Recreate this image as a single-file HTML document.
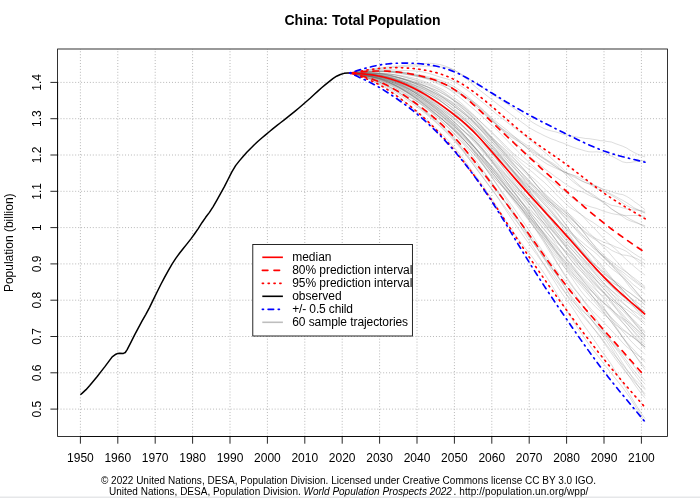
<!DOCTYPE html>
<html lang="en"><head><meta charset="utf-8"><title>China: Total Population</title>
<style>html,body{margin:0;padding:0;background:#fff}body{width:700px;height:498px;position:relative;overflow:hidden;font-family:"Liberation Sans",Arial,sans-serif}</style>
</head><body>
<svg width="700" height="498" viewBox="0 0 700 498" style="position:absolute;left:0;top:0">
<defs><clipPath id="lc"><rect x="252.8" y="244.5" width="159.6" height="91.5"/></clipPath></defs>
<path d="M80.40,436.5 V49.0 M117.80,436.5 V49.0 M155.20,436.5 V49.0 M192.60,436.5 V49.0 M230.00,436.5 V49.0 M267.40,436.5 V49.0 M304.80,436.5 V49.0 M342.20,436.5 V49.0 M379.60,436.5 V49.0 M417.00,436.5 V49.0 M454.40,436.5 V49.0 M491.80,436.5 V49.0 M529.20,436.5 V49.0 M566.60,436.5 V49.0 M604.00,436.5 V49.0 M641.40,436.5 V49.0 M57.6,409.10 H667.4 M57.6,372.80 H667.4 M57.6,336.50 H667.4 M57.6,300.20 H667.4 M57.6,263.90 H667.4 M57.6,227.60 H667.4 M57.6,191.30 H667.4 M57.6,155.00 H667.4 M57.6,118.70 H667.4 M57.6,82.40 H667.4" fill="none" stroke="#b8b8b8" stroke-width="1" stroke-dasharray="1 1.933"/>
<g fill="none" stroke="#686868" stroke-opacity="0.225" stroke-width="1">
<path d="M349.68,72.99 L353.42,72.66 L357.16,72.33 L360.90,72.02 L364.64,71.74 L368.38,71.49 L372.12,71.29 L375.86,71.14 L379.60,71.11 L383.34,71.12 L387.08,71.23 L390.82,71.43 L394.56,71.72 L398.30,72.13 L402.04,72.60 L405.78,73.23 L409.52,73.92 L413.26,74.62 L417.00,75.36 L420.74,76.23 L424.48,77.09 L428.22,78.26 L431.96,79.60 L435.70,81.16 L439.44,83.16 L443.18,85.30 L446.92,87.82 L450.66,90.49 L454.40,93.27 L458.14,96.04 L461.88,99.05 L465.62,102.19 L469.36,105.45 L473.10,108.44 L476.84,111.67 L480.58,114.91 L484.32,118.34 L488.06,121.97 L491.80,125.21 L495.54,128.69 L499.28,132.39 L503.02,136.21 L506.76,140.08 L510.50,144.15 L514.24,147.82 L517.98,151.72 L521.72,155.33 L525.46,158.92 L529.20,162.48 L532.94,165.96 L536.68,169.28 L540.42,172.85 L544.16,176.47 L547.90,180.35 L551.64,184.57 L555.38,188.83 L559.12,192.64 L562.86,196.49 L566.60,200.61 L570.34,204.57 L574.08,208.10 L577.82,211.63 L581.56,214.97 L585.30,218.91 L589.04,223.16 L592.78,226.87 L596.52,230.64 L600.26,234.79 L604.00,238.68 L607.74,242.30 L611.48,245.84 L615.22,248.80 L618.96,252.30 L622.70,256.18 L626.44,259.60 L630.18,262.90 L633.92,266.25 L637.66,269.38 L641.40,272.45 L645.14,275.11"/>
<path d="M349.68,72.99 L353.42,73.48 L357.16,73.98 L360.90,74.53 L364.64,75.12 L368.38,75.76 L372.12,76.47 L375.86,77.29 L379.60,78.26 L383.34,79.33 L387.08,80.51 L390.82,81.85 L394.56,83.32 L398.30,84.90 L402.04,86.52 L405.78,88.11 L409.52,89.86 L413.26,91.65 L417.00,93.60 L420.74,95.61 L424.48,97.73 L428.22,99.93 L431.96,102.14 L435.70,104.28 L439.44,106.70 L443.18,109.26 L446.92,111.91 L450.66,114.77 L454.40,117.81 L458.14,121.03 L461.88,124.70 L465.62,128.66 L469.36,132.63 L473.10,136.95 L476.84,141.37 L480.58,145.97 L484.32,150.93 L488.06,155.99 L491.80,160.84 L495.54,165.90 L499.28,171.26 L503.02,176.53 L506.76,181.86 L510.50,187.02 L514.24,192.12 L517.98,197.32 L521.72,202.56 L525.46,207.69 L529.20,212.90 L532.94,218.28 L536.68,223.70 L540.42,228.90 L544.16,233.56 L547.90,238.29 L551.64,242.61 L555.38,246.96 L559.12,251.10 L562.86,255.61 L566.60,260.27 L570.34,265.20 L574.08,269.78 L577.82,274.52 L581.56,279.27 L585.30,283.68 L589.04,287.69 L592.78,292.08 L596.52,296.77 L600.26,301.88 L604.00,307.79 L607.74,313.75 L611.48,319.65 L615.22,325.56 L618.96,331.23 L622.70,337.00 L626.44,341.97 L630.18,346.02 L633.92,349.90 L637.66,354.17 L641.40,358.46 L645.14,362.42"/>
<path d="M349.68,72.99 L353.42,73.95 L357.16,74.93 L360.90,75.94 L364.64,77.01 L368.38,78.16 L372.12,79.43 L375.86,80.85 L379.60,82.44 L383.34,84.20 L387.08,86.10 L390.82,88.08 L394.56,90.26 L398.30,92.49 L402.04,94.80 L405.78,97.32 L409.52,99.84 L413.26,102.52 L417.00,105.39 L420.74,108.39 L424.48,111.58 L428.22,114.95 L431.96,118.17 L435.70,121.51 L439.44,125.00 L443.18,128.50 L446.92,132.11 L450.66,135.89 L454.40,139.99 L458.14,144.25 L461.88,148.60 L465.62,152.98 L469.36,157.56 L473.10,162.14 L476.84,166.70 L480.58,171.09 L484.32,175.75 L488.06,180.57 L491.80,185.30 L495.54,190.04 L499.28,194.81 L503.02,199.69 L506.76,204.65 L510.50,209.33 L514.24,213.94 L517.98,218.81 L521.72,223.86 L525.46,229.12 L529.20,234.34 L532.94,239.32 L536.68,244.70 L540.42,250.25 L544.16,255.86 L547.90,261.38 L551.64,266.98 L555.38,272.57 L559.12,278.51 L562.86,284.09 L566.60,289.70 L570.34,295.01 L574.08,299.87 L577.82,304.32 L581.56,308.77 L585.30,312.88 L589.04,317.14 L592.78,321.41 L596.52,325.68 L600.26,329.80 L604.00,333.90 L607.74,337.91 L611.48,342.23 L615.22,346.48 L618.96,350.80 L622.70,355.56 L626.44,360.54 L630.18,365.73 L633.92,370.60 L637.66,375.20 L641.40,379.91 L645.14,384.26"/>
<path d="M349.68,72.99 L353.42,73.51 L357.16,74.03 L360.90,74.58 L364.64,75.19 L368.38,75.85 L372.12,76.58 L375.86,77.46 L379.60,78.49 L383.34,79.67 L387.08,80.95 L390.82,82.36 L394.56,83.96 L398.30,85.73 L402.04,87.61 L405.78,89.56 L409.52,91.57 L413.26,93.71 L417.00,95.91 L420.74,98.09 L424.48,100.34 L428.22,102.66 L431.96,105.19 L435.70,107.80 L439.44,110.68 L443.18,113.85 L446.92,117.25 L450.66,120.79 L454.40,124.49 L458.14,128.34 L461.88,132.42 L465.62,136.54 L469.36,140.61 L473.10,144.69 L476.84,148.97 L480.58,153.47 L484.32,157.98 L488.06,162.52 L491.80,167.01 L495.54,171.79 L499.28,176.90 L503.02,182.26 L506.76,187.36 L510.50,192.11 L514.24,196.67 L517.98,201.29 L521.72,205.62 L525.46,209.98 L529.20,214.19 L532.94,218.64 L536.68,223.54 L540.42,228.96 L544.16,234.15 L547.90,239.50 L551.64,244.79 L555.38,249.77 L559.12,255.05 L562.86,260.20 L566.60,264.93 L570.34,269.72 L574.08,274.50 L577.82,279.04 L581.56,283.71 L585.30,288.21 L589.04,292.69 L592.78,296.97 L596.52,301.18 L600.26,305.72 L604.00,310.14 L607.74,314.42 L611.48,318.01 L615.22,321.41 L618.96,325.06 L622.70,329.10 L626.44,331.91 L630.18,335.10 L633.92,337.97 L637.66,341.19 L641.40,344.28 L645.14,347.27"/>
<path d="M349.68,72.99 L353.42,73.08 L357.16,73.20 L360.90,73.35 L364.64,73.55 L368.38,73.83 L372.12,74.17 L375.86,74.62 L379.60,75.20 L383.34,75.89 L387.08,76.78 L390.82,77.83 L394.56,79.03 L398.30,80.42 L402.04,81.95 L405.78,83.58 L409.52,85.41 L413.26,87.36 L417.00,89.47 L420.74,91.75 L424.48,93.99 L428.22,96.39 L431.96,98.84 L435.70,101.34 L439.44,103.91 L443.18,106.56 L446.92,109.29 L450.66,112.13 L454.40,115.01 L458.14,118.04 L461.88,121.07 L465.62,124.40 L469.36,127.93 L473.10,131.61 L476.84,135.44 L480.58,139.54 L484.32,143.87 L488.06,148.53 L491.80,153.01 L495.54,157.66 L499.28,162.62 L503.02,167.77 L506.76,172.63 L510.50,177.76 L514.24,182.80 L517.98,188.09 L521.72,193.42 L525.46,198.39 L529.20,203.51 L532.94,208.99 L536.68,214.11 L540.42,219.18 L544.16,224.04 L547.90,228.88 L551.64,234.07 L555.38,239.51 L559.12,244.41 L562.86,249.51 L566.60,254.38 L570.34,259.36 L574.08,264.05 L577.82,268.41 L581.56,271.82 L585.30,275.89 L589.04,280.21 L592.78,284.79 L596.52,289.63 L600.26,294.28 L604.00,298.67 L607.74,303.72 L611.48,308.83 L615.22,313.61 L618.96,317.73 L622.70,322.23 L626.44,326.78 L630.18,331.88 L633.92,336.44 L637.66,340.62 L641.40,344.72 L645.14,349.25"/>
<path d="M349.68,72.99 L353.42,72.90 L357.16,72.82 L360.90,72.77 L364.64,72.77 L368.38,72.86 L372.12,73.02 L375.86,73.26 L379.60,73.64 L383.34,74.17 L387.08,74.86 L390.82,75.66 L394.56,76.53 L398.30,77.44 L402.04,78.35 L405.78,79.35 L409.52,80.47 L413.26,81.60 L417.00,82.84 L420.74,84.20 L424.48,85.75 L428.22,87.67 L431.96,89.67 L435.70,91.75 L439.44,93.95 L443.18,96.25 L446.92,98.71 L450.66,101.43 L454.40,104.21 L458.14,107.29 L461.88,110.48 L465.62,113.86 L469.36,117.61 L473.10,121.47 L476.84,125.57 L480.58,129.88 L484.32,134.28 L488.06,139.14 L491.80,144.05 L495.54,148.79 L499.28,153.60 L503.02,158.29 L506.76,162.96 L510.50,167.78 L514.24,172.29 L517.98,176.92 L521.72,181.57 L525.46,186.43 L529.20,191.15 L532.94,195.76 L536.68,200.19 L540.42,204.65 L544.16,208.87 L547.90,213.48 L551.64,217.74 L555.38,222.00 L559.12,226.26 L562.86,230.42 L566.60,234.67 L570.34,239.17 L574.08,243.10 L577.82,247.04 L581.56,250.96 L585.30,255.35 L589.04,259.66 L592.78,263.39 L596.52,266.65 L600.26,269.92 L604.00,273.67 L607.74,277.08 L611.48,279.94 L615.22,283.68 L618.96,287.63 L622.70,292.37 L626.44,297.63 L630.18,302.36 L633.92,306.89 L637.66,311.41 L641.40,315.23 L645.14,319.19"/>
<path d="M349.68,72.99 L353.42,73.60 L357.16,74.20 L360.90,74.84 L364.64,75.52 L368.38,76.27 L372.12,77.13 L375.86,78.13 L379.60,79.25 L383.34,80.52 L387.08,81.91 L390.82,83.38 L394.56,84.97 L398.30,86.65 L402.04,88.41 L405.78,90.33 L409.52,92.27 L413.26,94.34 L417.00,96.66 L420.74,99.09 L424.48,101.70 L428.22,104.44 L431.96,107.40 L435.70,110.56 L439.44,113.84 L443.18,117.20 L446.92,120.98 L450.66,124.96 L454.40,129.07 L458.14,133.15 L461.88,137.43 L465.62,141.81 L469.36,146.19 L473.10,150.79 L476.84,155.50 L480.58,160.39 L484.32,165.32 L488.06,169.98 L491.80,174.50 L495.54,179.08 L499.28,183.19 L503.02,187.13 L506.76,191.23 L510.50,195.42 L514.24,199.73 L517.98,203.89 L521.72,208.11 L525.46,212.38 L529.20,216.74 L532.94,220.73 L536.68,224.68 L540.42,228.46 L544.16,232.79 L547.90,237.09 L551.64,241.38 L555.38,245.51 L559.12,249.66 L562.86,254.11 L566.60,259.09 L570.34,263.74 L574.08,268.46 L577.82,273.47 L581.56,278.39 L585.30,283.39 L589.04,287.86 L592.78,292.17 L596.52,296.25 L600.26,300.17 L604.00,303.38 L607.74,307.00 L611.48,310.91 L615.22,314.85 L618.96,318.81 L622.70,322.83 L626.44,326.70 L630.18,331.11 L633.92,335.26 L637.66,339.17 L641.40,343.14 L645.14,346.93"/>
<path d="M349.68,72.99 L353.42,73.55 L357.16,74.11 L360.90,74.66 L364.64,75.24 L368.38,75.87 L372.12,76.52 L375.86,77.22 L379.60,78.06 L383.34,79.06 L387.08,80.22 L390.82,81.55 L394.56,83.08 L398.30,84.88 L402.04,86.80 L405.78,88.86 L409.52,91.06 L413.26,93.40 L417.00,95.79 L420.74,98.21 L424.48,100.61 L428.22,103.22 L431.96,105.92 L435.70,108.80 L439.44,111.74 L443.18,114.86 L446.92,118.14 L450.66,121.65 L454.40,125.23 L458.14,128.82 L461.88,132.61 L465.62,136.80 L469.36,141.24 L473.10,145.47 L476.84,149.69 L480.58,154.00 L484.32,158.39 L488.06,162.31 L491.80,166.12 L495.54,169.91 L499.28,173.88 L503.02,177.89 L506.76,181.76 L510.50,185.81 L514.24,189.85 L517.98,193.53 L521.72,197.01 L525.46,200.52 L529.20,204.43 L532.94,208.30 L536.68,212.06 L540.42,216.07 L544.16,220.26 L547.90,224.63 L551.64,229.51 L555.38,233.87 L559.12,238.55 L562.86,243.27 L566.60,248.25 L570.34,253.49 L574.08,259.21 L577.82,264.23 L581.56,269.25 L585.30,273.79 L589.04,277.72 L592.78,281.44 L596.52,285.45 L600.26,289.04 L604.00,293.15 L607.74,297.38 L611.48,301.80 L615.22,307.21 L618.96,312.54 L622.70,317.79 L626.44,322.74 L630.18,327.40 L633.92,332.03 L637.66,336.71 L641.40,340.85 L645.14,345.10"/>
<path d="M349.68,72.99 L353.42,73.15 L357.16,73.34 L360.90,73.54 L364.64,73.76 L368.38,74.02 L372.12,74.34 L375.86,74.66 L379.60,75.05 L383.34,75.56 L387.08,76.22 L390.82,77.03 L394.56,77.98 L398.30,79.02 L402.04,80.29 L405.78,81.71 L409.52,83.11 L413.26,84.60 L417.00,86.21 L420.74,87.85 L424.48,89.51 L428.22,91.25 L431.96,93.06 L435.70,95.09 L439.44,97.20 L443.18,99.39 L446.92,101.57 L450.66,104.03 L454.40,106.46 L458.14,109.04 L461.88,111.66 L465.62,114.72 L469.36,118.09 L473.10,121.95 L476.84,125.81 L480.58,129.75 L484.32,133.52 L488.06,137.81 L491.80,141.74 L495.54,145.60 L499.28,149.48 L503.02,153.37 L506.76,157.50 L510.50,162.25 L514.24,166.81 L517.98,171.80 L521.72,176.88 L525.46,181.80 L529.20,186.77 L532.94,191.24 L536.68,195.31 L540.42,199.61 L544.16,203.75 L547.90,207.95 L551.64,212.52 L555.38,217.09 L559.12,222.23 L562.86,227.88 L566.60,233.06 L570.34,238.17 L574.08,243.01 L577.82,247.53 L581.56,252.00 L585.30,256.27 L589.04,259.58 L592.78,262.88 L596.52,265.91 L600.26,268.81 L604.00,272.04 L607.74,275.41 L611.48,278.75 L615.22,282.33 L618.96,286.44 L622.70,290.08 L626.44,293.78 L630.18,297.37 L633.92,301.48 L637.66,305.52 L641.40,309.65 L645.14,313.31"/>
<path d="M349.68,72.99 L353.42,73.37 L357.16,73.76 L360.90,74.20 L364.64,74.71 L368.38,75.27 L372.12,75.87 L375.86,76.57 L379.60,77.38 L383.34,78.35 L387.08,79.41 L390.82,80.62 L394.56,82.01 L398.30,83.65 L402.04,85.44 L405.78,87.39 L409.52,89.46 L413.26,91.84 L417.00,94.39 L420.74,97.08 L424.48,99.91 L428.22,102.84 L431.96,105.96 L435.70,109.25 L439.44,112.45 L443.18,115.63 L446.92,118.92 L450.66,122.44 L454.40,126.02 L458.14,129.60 L461.88,133.39 L465.62,137.51 L469.36,141.71 L473.10,146.06 L476.84,150.30 L480.58,154.81 L484.32,159.19 L488.06,163.54 L491.80,167.82 L495.54,171.95 L499.28,175.97 L503.02,180.24 L506.76,184.43 L510.50,188.71 L514.24,192.68 L517.98,196.67 L521.72,201.38 L525.46,206.27 L529.20,211.09 L532.94,215.87 L536.68,220.47 L540.42,225.23 L544.16,229.73 L547.90,234.07 L551.64,238.13 L555.38,241.69 L559.12,245.04 L562.86,248.58 L566.60,252.11 L570.34,255.37 L574.08,258.55 L577.82,261.93 L581.56,265.66 L585.30,269.36 L589.04,273.18 L592.78,276.90 L596.52,281.07 L600.26,284.90 L604.00,288.65 L607.74,292.71 L611.48,296.89 L615.22,300.66 L618.96,304.71 L622.70,308.71 L626.44,312.54 L630.18,316.60 L633.92,320.29 L637.66,323.97 L641.40,327.92 L645.14,331.60"/>
<path d="M349.68,72.99 L353.42,72.76 L357.16,72.49 L360.90,72.21 L364.64,71.93 L368.38,71.66 L372.12,71.46 L375.86,71.33 L379.60,71.26 L383.34,71.24 L387.08,71.29 L390.82,71.43 L394.56,71.67 L398.30,71.90 L402.04,72.21 L405.78,72.55 L409.52,73.04 L413.26,73.73 L417.00,74.39 L420.74,75.08 L424.48,75.88 L428.22,76.78 L431.96,77.74 L435.70,78.83 L439.44,79.92 L443.18,81.29 L446.92,82.80 L450.66,84.71 L454.40,86.74 L458.14,89.24 L461.88,92.08 L465.62,94.87 L469.36,97.81 L473.10,101.23 L476.84,104.61 L480.58,108.13 L484.32,111.43 L488.06,114.65 L491.80,117.99 L495.54,121.17 L499.28,124.20 L503.02,127.07 L506.76,130.05 L510.50,133.31 L514.24,136.55 L517.98,139.85 L521.72,143.26 L525.46,146.66 L529.20,150.22 L532.94,153.55 L536.68,156.72 L540.42,159.58 L544.16,162.17 L547.90,164.59 L551.64,166.31 L555.38,168.05 L559.12,169.77 L562.86,171.54 L566.60,172.98 L570.34,174.18 L574.08,175.92 L577.82,178.43 L581.56,180.48 L585.30,182.46 L589.04,184.06 L592.78,186.15 L596.52,188.54 L600.26,190.10 L604.00,191.31 L607.74,192.32 L611.48,194.24 L615.22,196.15 L618.96,198.34 L622.70,200.31 L626.44,202.53 L630.18,205.00 L633.92,207.66 L637.66,209.48 L641.40,211.46 L645.14,213.02"/>
<path d="M349.68,72.99 L353.42,73.77 L357.16,74.57 L360.90,75.42 L364.64,76.32 L368.38,77.29 L372.12,78.33 L375.86,79.46 L379.60,80.69 L383.34,82.08 L387.08,83.62 L390.82,85.33 L394.56,87.18 L398.30,89.19 L402.04,91.30 L405.78,93.59 L409.52,95.92 L413.26,98.39 L417.00,100.92 L420.74,103.52 L424.48,106.20 L428.22,108.91 L431.96,111.66 L435.70,114.41 L439.44,117.12 L443.18,120.00 L446.92,123.06 L450.66,126.15 L454.40,129.54 L458.14,133.07 L461.88,136.94 L465.62,141.28 L469.36,145.75 L473.10,150.63 L476.84,155.69 L480.58,160.99 L484.32,166.51 L488.06,172.11 L491.80,177.48 L495.54,183.05 L499.28,188.60 L503.02,194.40 L506.76,200.47 L510.50,206.64 L514.24,212.59 L517.98,218.83 L521.72,224.78 L525.46,230.75 L529.20,236.56 L532.94,242.11 L536.68,247.53 L540.42,253.17 L544.16,258.25 L547.90,263.38 L551.64,268.14 L555.38,273.10 L559.12,277.78 L562.86,282.38 L566.60,286.80 L570.34,291.52 L574.08,295.75 L577.82,300.39 L581.56,304.78 L585.30,309.02 L589.04,313.23 L592.78,317.78 L596.52,322.36 L600.26,327.69 L604.00,332.50 L607.74,336.63 L611.48,340.70 L615.22,344.97 L618.96,349.26 L622.70,353.60 L626.44,357.29 L630.18,361.24 L633.92,366.06 L637.66,371.24 L641.40,376.14 L645.14,380.80"/>
<path d="M349.68,72.99 L353.42,73.56 L357.16,74.16 L360.90,74.84 L364.64,75.60 L368.38,76.48 L372.12,77.48 L375.86,78.56 L379.60,79.71 L383.34,81.03 L387.08,82.38 L390.82,83.84 L394.56,85.41 L398.30,87.15 L402.04,89.09 L405.78,91.28 L409.52,93.44 L413.26,95.89 L417.00,98.61 L420.74,101.43 L424.48,104.34 L428.22,107.37 L431.96,110.39 L435.70,113.68 L439.44,116.83 L443.18,120.21 L446.92,123.71 L450.66,127.41 L454.40,131.27 L458.14,135.30 L461.88,139.57 L465.62,144.22 L469.36,148.70 L473.10,153.28 L476.84,157.99 L480.58,162.53 L484.32,166.85 L488.06,171.27 L491.80,175.56 L495.54,179.58 L499.28,183.51 L503.02,187.27 L506.76,191.35 L510.50,195.88 L514.24,200.21 L517.98,204.67 L521.72,209.43 L525.46,214.42 L529.20,219.55 L532.94,224.90 L536.68,230.19 L540.42,235.65 L544.16,241.05 L547.90,246.40 L551.64,251.58 L555.38,256.53 L559.12,261.09 L562.86,265.56 L566.60,269.79 L570.34,273.96 L574.08,278.13 L577.82,282.58 L581.56,286.77 L585.30,290.98 L589.04,295.33 L592.78,299.72 L596.52,304.16 L600.26,308.70 L604.00,313.11 L607.74,317.54 L611.48,322.15 L615.22,327.15 L618.96,332.22 L622.70,337.66 L626.44,343.20 L630.18,348.29 L633.92,353.55 L637.66,358.64 L641.40,363.10 L645.14,367.36"/>
<path d="M349.68,72.99 L353.42,72.96 L357.16,72.93 L360.90,72.89 L364.64,72.84 L368.38,72.80 L372.12,72.81 L375.86,72.85 L379.60,72.97 L383.34,73.20 L387.08,73.59 L390.82,74.15 L394.56,74.83 L398.30,75.63 L402.04,76.45 L405.78,77.37 L409.52,78.33 L413.26,79.37 L417.00,80.40 L420.74,81.40 L424.48,82.50 L428.22,83.96 L431.96,85.61 L435.70,87.49 L439.44,89.45 L443.18,91.64 L446.92,94.25 L450.66,97.06 L454.40,99.96 L458.14,102.78 L461.88,105.72 L465.62,108.95 L469.36,112.62 L473.10,116.50 L476.84,120.29 L480.58,124.53 L484.32,129.00 L488.06,133.46 L491.80,137.99 L495.54,142.39 L499.28,146.64 L503.02,151.17 L506.76,155.37 L510.50,159.83 L514.24,164.38 L517.98,169.03 L521.72,173.65 L525.46,178.22 L529.20,182.67 L532.94,186.91 L536.68,190.85 L540.42,194.54 L544.16,197.76 L547.90,200.57 L551.64,203.07 L555.38,205.70 L559.12,208.54 L562.86,211.02 L566.60,214.02 L570.34,217.25 L574.08,220.89 L577.82,224.99 L581.56,229.52 L585.30,234.26 L589.04,239.26 L592.78,243.59 L596.52,247.66 L600.26,251.54 L604.00,255.28 L607.74,258.65 L611.48,261.52 L615.22,264.36 L618.96,267.21 L622.70,269.74 L626.44,272.18 L630.18,275.02 L633.92,277.83 L637.66,280.75 L641.40,283.57 L645.14,286.61"/>
<path d="M349.68,73.00 L353.42,72.40 L357.16,71.81 L360.90,71.23 L364.64,70.66 L368.38,70.13 L372.12,69.65 L375.86,69.24 L379.60,68.84 L383.34,68.48 L387.08,68.17 L390.82,67.86 L394.56,67.49 L398.30,67.08 L402.04,66.75 L405.78,66.45 L409.52,66.19 L413.26,66.04 L417.00,65.91 L420.74,65.92 L424.48,66.13 L428.22,66.18 L431.96,66.27 L435.70,66.50 L439.44,66.75 L443.18,67.17 L446.92,67.73 L450.66,68.75 L454.40,70.37 L458.14,72.52 L461.88,75.17 L465.62,78.19 L469.36,81.34 L473.10,84.70 L476.84,87.93 L480.58,90.83 L484.32,93.72 L488.06,96.64 L491.80,99.52 L495.54,102.47 L499.28,105.40 L503.02,107.98 L506.76,110.94 L510.50,113.97 L514.24,116.73 L517.98,119.38 L521.72,122.21 L525.46,124.85 L529.20,127.67 L532.94,129.82 L536.68,131.89 L540.42,133.68 L544.16,135.61 L547.90,137.36 L551.64,138.96 L555.38,140.26 L559.12,141.82 L562.86,143.03 L566.60,144.62 L570.34,146.21 L574.08,147.53 L577.82,148.78 L581.56,149.80 L585.30,150.95 L589.04,151.80 L592.78,151.95 L596.52,151.79 L600.26,152.14 L604.00,152.98 L607.74,154.70 L611.48,156.04 L615.22,157.98 L618.96,160.01 L622.70,161.88 L626.44,162.61 L630.18,162.50 L633.92,161.80 L637.66,161.55 L641.40,160.85 L645.14,160.47"/>
<path d="M349.68,72.99 L353.42,73.26 L357.16,73.53 L360.90,73.84 L364.64,74.20 L368.38,74.65 L372.12,75.18 L375.86,75.79 L379.60,76.52 L383.34,77.39 L387.08,78.40 L390.82,79.51 L394.56,80.74 L398.30,82.06 L402.04,83.53 L405.78,85.25 L409.52,87.18 L413.26,89.15 L417.00,91.22 L420.74,93.35 L424.48,95.62 L428.22,98.12 L431.96,100.43 L435.70,102.62 L439.44,104.90 L443.18,107.43 L446.92,110.21 L450.66,113.03 L454.40,115.50 L458.14,118.07 L461.88,120.69 L465.62,123.30 L469.36,126.22 L473.10,128.95 L476.84,132.15 L480.58,135.89 L484.32,139.82 L488.06,143.87 L491.80,147.99 L495.54,151.90 L499.28,156.14 L503.02,160.39 L506.76,164.59 L510.50,168.97 L514.24,173.74 L517.98,178.84 L521.72,184.13 L525.46,189.67 L529.20,195.20 L532.94,201.02 L536.68,206.72 L540.42,212.15 L544.16,216.96 L547.90,222.00 L551.64,226.82 L555.38,231.17 L559.12,235.20 L562.86,239.35 L566.60,243.19 L570.34,247.60 L574.08,251.93 L577.82,256.41 L581.56,261.02 L585.30,265.46 L589.04,270.13 L592.78,275.40 L596.52,280.40 L600.26,284.91 L604.00,289.17 L607.74,293.27 L611.48,297.23 L615.22,301.22 L618.96,304.99 L622.70,308.74 L626.44,312.77 L630.18,317.20 L633.92,321.90 L637.66,326.79 L641.40,331.22 L645.14,335.59"/>
<path d="M349.68,72.99 L353.42,73.21 L357.16,73.44 L360.90,73.68 L364.64,73.93 L368.38,74.25 L372.12,74.61 L375.86,75.09 L379.60,75.66 L383.34,76.43 L387.08,77.28 L390.82,78.27 L394.56,79.31 L398.30,80.45 L402.04,81.64 L405.78,82.80 L409.52,83.77 L413.26,84.94 L417.00,86.27 L420.74,87.81 L424.48,89.53 L428.22,91.63 L431.96,93.99 L435.70,96.78 L439.44,99.76 L443.18,102.82 L446.92,105.79 L450.66,108.47 L454.40,111.04 L458.14,113.54 L461.88,116.10 L465.62,118.81 L469.36,121.57 L473.10,124.98 L476.84,128.78 L480.58,132.91 L484.32,137.34 L488.06,141.50 L491.80,145.77 L495.54,150.17 L499.28,154.53 L503.02,159.05 L506.76,163.57 L510.50,167.86 L514.24,172.01 L517.98,175.91 L521.72,179.96 L525.46,183.67 L529.20,187.16 L532.94,190.18 L536.68,193.37 L540.42,196.96 L544.16,200.49 L547.90,203.97 L551.64,207.68 L555.38,211.71 L559.12,216.06 L562.86,220.85 L566.60,225.81 L570.34,231.24 L574.08,236.58 L577.82,241.74 L581.56,246.87 L585.30,252.12 L589.04,257.26 L592.78,262.12 L596.52,266.15 L600.26,269.86 L604.00,273.71 L607.74,276.54 L611.48,279.45 L615.22,281.45 L618.96,283.79 L622.70,287.55 L626.44,290.66 L630.18,293.05 L633.92,296.26 L637.66,298.92 L641.40,302.10 L645.14,305.04"/>
<path d="M349.68,72.99 L353.42,73.56 L357.16,74.15 L360.90,74.79 L364.64,75.48 L368.38,76.24 L372.12,77.05 L375.86,77.95 L379.60,78.93 L383.34,80.09 L387.08,81.44 L390.82,82.91 L394.56,84.57 L398.30,86.44 L402.04,88.43 L405.78,90.61 L409.52,92.83 L413.26,95.12 L417.00,97.62 L420.74,100.14 L424.48,102.76 L428.22,105.54 L431.96,108.42 L435.70,111.38 L439.44,114.44 L443.18,117.49 L446.92,120.50 L450.66,123.59 L454.40,126.72 L458.14,129.86 L461.88,133.20 L465.62,136.73 L469.36,140.65 L473.10,145.14 L476.84,149.98 L480.58,154.86 L484.32,159.88 L488.06,164.90 L491.80,170.01 L495.54,174.76 L499.28,179.38 L503.02,183.65 L506.76,187.90 L510.50,191.84 L514.24,195.75 L517.98,199.30 L521.72,202.62 L525.46,206.18 L529.20,209.80 L532.94,213.18 L536.68,216.71 L540.42,219.95 L544.16,223.01 L547.90,226.69 L551.64,229.97 L555.38,233.65 L559.12,237.84 L562.86,242.27 L566.60,246.92 L570.34,251.86 L574.08,256.52 L577.82,261.63 L581.56,266.02 L585.30,269.90 L589.04,273.41 L592.78,276.90 L596.52,280.39 L600.26,283.76 L604.00,286.58 L607.74,290.22 L611.48,293.89 L615.22,296.88 L618.96,300.20 L622.70,303.15 L626.44,306.08 L630.18,309.11 L633.92,311.22 L637.66,313.49 L641.40,316.59 L645.14,319.12"/>
<path d="M349.68,72.99 L353.42,74.18 L357.16,75.39 L360.90,76.64 L364.64,77.94 L368.38,79.32 L372.12,80.83 L375.86,82.48 L379.60,84.27 L383.34,86.24 L387.08,88.44 L390.82,90.88 L394.56,93.51 L398.30,96.37 L402.04,99.26 L405.78,102.34 L409.52,105.57 L413.26,108.65 L417.00,111.80 L420.74,114.86 L424.48,117.94 L428.22,121.30 L431.96,124.70 L435.70,128.05 L439.44,131.56 L443.18,135.22 L446.92,139.18 L450.66,143.37 L454.40,147.73 L458.14,152.09 L461.88,156.76 L465.62,161.80 L469.36,167.00 L473.10,172.17 L476.84,177.27 L480.58,182.34 L484.32,187.79 L488.06,193.27 L491.80,198.84 L495.54,204.55 L499.28,210.27 L503.02,216.20 L506.76,222.10 L510.50,227.73 L514.24,233.31 L517.98,238.64 L521.72,243.41 L525.46,248.23 L529.20,253.06 L532.94,257.86 L536.68,262.82 L540.42,268.07 L544.16,273.28 L547.90,278.94 L551.64,285.13 L555.38,291.23 L559.12,297.47 L562.86,303.81 L566.60,310.20 L570.34,316.54 L574.08,322.70 L577.82,328.22 L581.56,333.85 L585.30,339.17 L589.04,344.61 L592.78,349.66 L596.52,354.28 L600.26,359.09 L604.00,364.11 L607.74,368.63 L611.48,373.49 L615.22,378.17 L618.96,382.79 L622.70,387.53 L626.44,392.73 L630.18,398.08 L633.92,404.07 L637.66,410.02 L641.40,415.92 L645.14,421.93"/>
<path d="M349.68,72.99 L353.42,73.75 L357.16,74.54 L360.90,75.38 L364.64,76.30 L368.38,77.31 L372.12,78.37 L375.86,79.55 L379.60,80.85 L383.34,82.30 L387.08,83.94 L390.82,85.69 L394.56,87.55 L398.30,89.64 L402.04,91.89 L405.78,94.17 L409.52,96.55 L413.26,98.96 L417.00,101.53 L420.74,104.32 L424.48,107.20 L428.22,110.03 L431.96,113.09 L435.70,116.28 L439.44,119.68 L443.18,123.14 L446.92,126.63 L450.66,130.20 L454.40,133.92 L458.14,137.73 L461.88,141.44 L465.62,145.15 L469.36,148.86 L473.10,152.92 L476.84,157.11 L480.58,161.67 L484.32,166.35 L488.06,171.61 L491.80,176.83 L495.54,182.22 L499.28,187.49 L503.02,192.80 L506.76,198.17 L510.50,203.47 L514.24,208.66 L517.98,214.19 L521.72,219.65 L525.46,225.05 L529.20,230.53 L532.94,236.13 L536.68,242.02 L540.42,247.72 L544.16,253.00 L547.90,258.56 L551.64,263.80 L555.38,268.72 L559.12,273.53 L562.86,277.89 L566.60,282.45 L570.34,287.60 L574.08,292.71 L577.82,298.21 L581.56,303.92 L585.30,309.58 L589.04,315.36 L592.78,321.27 L596.52,326.62 L600.26,331.98 L604.00,337.43 L607.74,342.93 L611.48,348.64 L615.22,354.79 L618.96,360.71 L622.70,366.84 L626.44,372.49 L630.18,377.87 L633.92,383.46 L637.66,388.76 L641.40,393.70 L645.14,398.36"/>
<path d="M349.68,72.99 L353.42,72.89 L357.16,72.81 L360.90,72.77 L364.64,72.78 L368.38,72.82 L372.12,72.94 L375.86,73.08 L379.60,73.31 L383.34,73.60 L387.08,73.90 L390.82,74.27 L394.56,74.68 L398.30,75.14 L402.04,75.69 L405.78,76.34 L409.52,77.13 L413.26,78.01 L417.00,79.04 L420.74,80.21 L424.48,81.45 L428.22,82.78 L431.96,84.35 L435.70,86.05 L439.44,87.91 L443.18,89.89 L446.92,92.12 L450.66,94.88 L454.40,97.80 L458.14,100.74 L461.88,103.74 L465.62,107.25 L469.36,110.77 L473.10,114.52 L476.84,117.99 L480.58,121.80 L484.32,125.71 L488.06,129.46 L491.80,133.09 L495.54,136.92 L499.28,140.74 L503.02,144.87 L506.76,148.63 L510.50,151.96 L514.24,155.79 L517.98,159.78 L521.72,163.40 L525.46,166.73 L529.20,169.64 L532.94,172.51 L536.68,175.88 L540.42,179.10 L544.16,182.22 L547.90,185.89 L551.64,189.59 L555.38,193.64 L559.12,197.43 L562.86,201.00 L566.60,204.68 L570.34,207.81 L574.08,210.07 L577.82,212.39 L581.56,214.77 L585.30,217.60 L589.04,219.99 L592.78,222.25 L596.52,224.87 L600.26,227.66 L604.00,230.47 L607.74,233.16 L611.48,236.02 L615.22,239.52 L618.96,242.72 L622.70,245.58 L626.44,248.34 L630.18,250.86 L633.92,253.50 L637.66,255.98 L641.40,258.14 L645.14,260.37"/>
<path d="M349.68,72.99 L353.42,73.49 L357.16,73.99 L360.90,74.52 L364.64,75.11 L368.38,75.80 L372.12,76.60 L375.86,77.55 L379.60,78.64 L383.34,79.91 L387.08,81.43 L390.82,83.13 L394.56,84.95 L398.30,86.96 L402.04,89.20 L405.78,91.55 L409.52,94.03 L413.26,96.63 L417.00,99.24 L420.74,101.95 L424.48,104.92 L428.22,107.73 L431.96,110.78 L435.70,113.84 L439.44,116.94 L443.18,120.10 L446.92,123.42 L450.66,126.64 L454.40,130.22 L458.14,133.73 L461.88,137.46 L465.62,141.37 L469.36,145.37 L473.10,149.40 L476.84,153.66 L480.58,157.61 L484.32,161.72 L488.06,165.87 L491.80,169.86 L495.54,174.30 L499.28,178.61 L503.02,182.74 L506.76,187.31 L510.50,192.04 L514.24,196.61 L517.98,201.31 L521.72,205.97 L525.46,210.74 L529.20,216.12 L532.94,221.51 L536.68,226.90 L540.42,232.41 L544.16,237.89 L547.90,243.45 L551.64,249.02 L555.38,254.18 L559.12,259.37 L562.86,264.75 L566.60,270.31 L570.34,275.81 L574.08,281.19 L577.82,286.65 L581.56,291.76 L585.30,296.40 L589.04,300.27 L592.78,303.86 L596.52,307.77 L600.26,311.13 L604.00,314.38 L607.74,317.56 L611.48,320.96 L615.22,324.40 L618.96,327.49 L622.70,330.06 L626.44,332.70 L630.18,335.26 L633.92,338.02 L637.66,340.74 L641.40,343.77 L645.14,347.04"/>
<path d="M349.68,73.00 L353.42,72.33 L357.16,71.66 L360.90,70.98 L364.64,70.30 L368.38,69.63 L372.12,68.96 L375.86,68.38 L379.60,67.86 L383.34,67.43 L387.08,67.00 L390.82,66.60 L394.56,66.28 L398.30,66.02 L402.04,65.72 L405.78,65.37 L409.52,64.89 L413.26,64.56 L417.00,64.20 L420.74,63.87 L424.48,63.57 L428.22,63.35 L431.96,63.34 L435.70,63.89 L439.44,64.53 L443.18,65.43 L446.92,66.71 L450.66,68.36 L454.40,70.20 L458.14,72.36 L461.88,74.44 L465.62,76.66 L469.36,79.16 L473.10,81.54 L476.84,83.79 L480.58,86.26 L484.32,88.75 L488.06,91.36 L491.80,93.96 L495.54,96.39 L499.28,98.90 L503.02,101.37 L506.76,103.71 L510.50,106.15 L514.24,108.66 L517.98,111.36 L521.72,114.21 L525.46,117.06 L529.20,120.00 L532.94,122.64 L536.68,124.81 L540.42,126.76 L544.16,128.68 L547.90,129.93 L551.64,130.99 L555.38,131.83 L559.12,132.96 L562.86,134.22 L566.60,135.12 L570.34,135.86 L574.08,136.48 L577.82,137.28 L581.56,137.74 L585.30,138.46 L589.04,138.65 L592.78,139.25 L596.52,139.81 L600.26,140.67 L604.00,140.84 L607.74,141.56 L611.48,142.04 L615.22,143.55 L618.96,144.89 L622.70,146.21 L626.44,147.94 L630.18,150.30 L633.92,152.38 L637.66,154.28 L641.40,155.60 L645.14,156.90"/>
<path d="M349.68,72.99 L353.42,73.87 L357.16,74.77 L360.90,75.71 L364.64,76.72 L368.38,77.83 L372.12,79.10 L375.86,80.46 L379.60,81.97 L383.34,83.65 L387.08,85.49 L390.82,87.47 L394.56,89.66 L398.30,91.93 L402.04,94.34 L405.78,96.87 L409.52,99.42 L413.26,101.99 L417.00,104.70 L420.74,107.45 L424.48,110.22 L428.22,113.01 L431.96,115.93 L435.70,119.15 L439.44,122.65 L443.18,126.26 L446.92,130.10 L450.66,134.28 L454.40,138.93 L458.14,143.88 L461.88,148.83 L465.62,153.99 L469.36,159.27 L473.10,164.39 L476.84,169.50 L480.58,174.54 L484.32,179.45 L488.06,184.64 L491.80,189.48 L495.54,194.20 L499.28,199.18 L503.02,204.30 L506.76,209.26 L510.50,214.17 L514.24,218.65 L517.98,223.20 L521.72,227.96 L525.46,232.56 L529.20,237.42 L532.94,242.39 L536.68,247.43 L540.42,252.30 L544.16,257.40 L547.90,262.79 L551.64,268.28 L555.38,273.41 L559.12,278.80 L562.86,284.35 L566.60,290.52 L570.34,296.54 L574.08,301.99 L577.82,307.40 L581.56,312.56 L585.30,317.47 L589.04,322.22 L592.78,327.19 L596.52,332.41 L600.26,337.42 L604.00,342.64 L607.74,348.12 L611.48,353.32 L615.22,358.55 L618.96,363.39 L622.70,368.37 L626.44,373.20 L630.18,377.31 L633.92,381.33 L637.66,385.55 L641.40,389.66 L645.14,393.84"/>
<path d="M349.68,72.99 L353.42,73.34 L357.16,73.69 L360.90,74.06 L364.64,74.46 L368.38,74.91 L372.12,75.42 L375.86,76.09 L379.60,76.86 L383.34,77.76 L387.08,78.81 L390.82,80.03 L394.56,81.38 L398.30,82.90 L402.04,84.61 L405.78,86.47 L409.52,88.53 L413.26,90.69 L417.00,92.76 L420.74,94.96 L424.48,97.28 L428.22,99.52 L431.96,102.00 L435.70,104.65 L439.44,107.35 L443.18,110.39 L446.92,113.63 L450.66,116.76 L454.40,119.92 L458.14,122.97 L461.88,125.94 L465.62,129.00 L469.36,131.97 L473.10,135.04 L476.84,138.23 L480.58,141.77 L484.32,145.55 L488.06,149.67 L491.80,153.96 L495.54,158.40 L499.28,162.63 L503.02,167.26 L506.76,171.74 L510.50,176.24 L514.24,180.63 L517.98,185.16 L521.72,189.75 L525.46,194.91 L529.20,199.94 L532.94,204.98 L536.68,210.10 L540.42,215.30 L544.16,220.58 L547.90,225.52 L551.64,230.39 L555.38,234.97 L559.12,239.41 L562.86,243.79 L566.60,248.21 L570.34,252.05 L574.08,255.90 L577.82,259.63 L581.56,263.79 L585.30,267.79 L589.04,271.58 L592.78,274.53 L596.52,277.81 L600.26,281.29 L604.00,284.75 L607.74,287.50 L611.48,290.58 L615.22,294.23 L618.96,298.37 L622.70,302.35 L626.44,305.93 L630.18,309.22 L633.92,313.08 L637.66,316.73 L641.40,319.74 L645.14,322.71"/>
<path d="M349.68,72.99 L353.42,73.20 L357.16,73.40 L360.90,73.63 L364.64,73.88 L368.38,74.21 L372.12,74.60 L375.86,75.12 L379.60,75.75 L383.34,76.46 L387.08,77.30 L390.82,78.28 L394.56,79.35 L398.30,80.57 L402.04,81.79 L405.78,83.16 L409.52,84.63 L413.26,86.22 L417.00,87.84 L420.74,89.64 L424.48,91.52 L428.22,93.54 L431.96,95.73 L435.70,98.01 L439.44,100.27 L443.18,102.98 L446.92,105.64 L450.66,108.69 L454.40,111.74 L458.14,114.51 L461.88,117.59 L465.62,120.88 L469.36,124.05 L473.10,127.39 L476.84,130.62 L480.58,133.95 L484.32,137.88 L488.06,141.57 L491.80,145.44 L495.54,149.22 L499.28,152.85 L503.02,156.44 L506.76,160.38 L510.50,164.25 L514.24,168.46 L517.98,172.51 L521.72,176.36 L525.46,180.67 L529.20,185.01 L532.94,189.02 L536.68,192.73 L540.42,196.22 L544.16,199.33 L547.90,202.55 L551.64,205.25 L555.38,207.88 L559.12,210.18 L562.86,213.03 L566.60,215.64 L570.34,218.67 L574.08,221.86 L577.82,225.50 L581.56,229.79 L585.30,234.68 L589.04,239.24 L592.78,244.02 L596.52,249.15 L600.26,253.74 L604.00,257.89 L607.74,261.46 L611.48,265.04 L615.22,268.59 L618.96,272.61 L622.70,276.29 L626.44,280.42 L630.18,284.69 L633.92,289.39 L637.66,293.85 L641.40,298.07 L645.14,301.89"/>
<path d="M349.68,72.99 L353.42,73.30 L357.16,73.62 L360.90,73.98 L364.64,74.41 L368.38,74.93 L372.12,75.54 L375.86,76.32 L379.60,77.26 L383.34,78.38 L387.08,79.62 L390.82,80.91 L394.56,82.31 L398.30,83.87 L402.04,85.57 L405.78,87.35 L409.52,89.26 L413.26,91.36 L417.00,93.75 L420.74,96.33 L424.48,99.00 L428.22,101.56 L431.96,104.37 L435.70,107.15 L439.44,109.94 L443.18,112.82 L446.92,115.72 L450.66,118.77 L454.40,122.26 L458.14,125.55 L461.88,129.26 L465.62,133.11 L469.36,136.99 L473.10,141.11 L476.84,145.35 L480.58,149.51 L484.32,154.02 L488.06,158.27 L491.80,162.51 L495.54,167.10 L499.28,171.39 L503.02,175.33 L506.76,179.24 L510.50,182.99 L514.24,187.00 L517.98,191.12 L521.72,195.01 L525.46,199.22 L529.20,203.65 L532.94,208.40 L536.68,213.38 L540.42,218.47 L544.16,223.60 L547.90,228.56 L551.64,233.57 L555.38,238.98 L559.12,243.80 L562.86,248.87 L566.60,253.75 L570.34,258.78 L574.08,263.54 L577.82,267.58 L581.56,271.34 L585.30,275.68 L589.04,279.78 L592.78,283.30 L596.52,286.79 L600.26,290.13 L604.00,293.56 L607.74,296.97 L611.48,299.95 L615.22,302.52 L618.96,304.88 L622.70,307.18 L626.44,309.47 L630.18,312.18 L633.92,315.08 L637.66,318.13 L641.40,321.39 L645.14,325.12"/>
<path d="M349.68,72.99 L353.42,73.14 L357.16,73.31 L360.90,73.51 L364.64,73.76 L368.38,74.04 L372.12,74.38 L375.86,74.77 L379.60,75.21 L383.34,75.81 L387.08,76.60 L390.82,77.53 L394.56,78.66 L398.30,79.94 L402.04,81.35 L405.78,82.92 L409.52,84.51 L413.26,86.17 L417.00,87.96 L420.74,89.83 L424.48,91.73 L428.22,93.81 L431.96,96.02 L435.70,98.37 L439.44,100.76 L443.18,103.09 L446.92,105.74 L450.66,108.52 L454.40,111.37 L458.14,114.24 L461.88,117.36 L465.62,120.77 L469.36,124.47 L473.10,128.15 L476.84,132.13 L480.58,136.03 L484.32,139.93 L488.06,143.93 L491.80,147.75 L495.54,151.81 L499.28,155.71 L503.02,159.44 L506.76,163.50 L510.50,167.80 L514.24,172.12 L517.98,176.55 L521.72,180.81 L525.46,185.26 L529.20,189.76 L532.94,194.84 L536.68,199.84 L540.42,205.10 L544.16,210.39 L547.90,215.49 L551.64,220.54 L555.38,225.60 L559.12,229.94 L562.86,234.34 L566.60,238.47 L570.34,242.82 L574.08,247.68 L577.82,252.33 L581.56,256.89 L585.30,261.14 L589.04,265.37 L592.78,269.40 L596.52,273.26 L600.26,276.68 L604.00,280.09 L607.74,283.31 L611.48,286.84 L615.22,290.41 L618.96,293.49 L622.70,296.51 L626.44,299.67 L630.18,302.61 L633.92,305.27 L637.66,307.62 L641.40,309.51 L645.14,311.99"/>
<path d="M349.68,73.00 L353.42,72.48 L357.16,71.95 L360.90,71.43 L364.64,70.95 L368.38,70.49 L372.12,70.10 L375.86,69.80 L379.60,69.61 L383.34,69.56 L387.08,69.58 L390.82,69.71 L394.56,69.93 L398.30,70.20 L402.04,70.41 L405.78,70.55 L409.52,70.68 L413.26,70.85 L417.00,71.18 L420.74,71.65 L424.48,72.31 L428.22,73.26 L431.96,74.39 L435.70,75.59 L439.44,76.88 L443.18,77.90 L446.92,78.88 L450.66,80.16 L454.40,81.88 L458.14,84.15 L461.88,86.55 L465.62,89.04 L469.36,91.66 L473.10,94.74 L476.84,97.74 L480.58,100.77 L484.32,103.60 L488.06,106.69 L491.80,109.88 L495.54,113.21 L499.28,116.19 L503.02,119.10 L506.76,121.99 L510.50,124.88 L514.24,127.79 L517.98,130.61 L521.72,133.39 L525.46,136.27 L529.20,139.27 L532.94,142.51 L536.68,145.55 L540.42,148.72 L544.16,151.91 L547.90,154.94 L551.64,158.40 L555.38,161.98 L559.12,165.33 L562.86,169.08 L566.60,172.86 L570.34,176.61 L574.08,180.55 L577.82,183.94 L581.56,187.18 L585.30,190.16 L589.04,193.10 L592.78,195.66 L596.52,198.21 L600.26,200.63 L604.00,203.27 L607.74,206.07 L611.48,208.88 L615.22,211.29 L618.96,213.74 L622.70,216.60 L626.44,219.26 L630.18,220.85 L633.92,222.10 L637.66,223.33 L641.40,224.61 L645.14,225.73"/>
<path d="M349.68,72.99 L353.42,73.23 L357.16,73.50 L360.90,73.80 L364.64,74.18 L368.38,74.65 L372.12,75.16 L375.86,75.80 L379.60,76.54 L383.34,77.49 L387.08,78.59 L390.82,79.79 L394.56,81.04 L398.30,82.39 L402.04,83.81 L405.78,85.26 L409.52,86.68 L413.26,88.05 L417.00,89.41 L420.74,90.95 L424.48,92.56 L428.22,94.22 L431.96,95.99 L435.70,97.90 L439.44,100.15 L443.18,102.86 L446.92,105.77 L450.66,109.10 L454.40,112.58 L458.14,116.21 L461.88,120.19 L465.62,124.14 L469.36,127.88 L473.10,131.79 L476.84,135.43 L480.58,138.97 L484.32,142.78 L488.06,146.25 L491.80,149.76 L495.54,153.33 L499.28,156.72 L503.02,160.48 L506.76,164.62 L510.50,168.69 L514.24,173.07 L517.98,177.54 L521.72,182.37 L525.46,187.60 L529.20,192.58 L532.94,197.46 L536.68,202.09 L540.42,206.96 L544.16,211.95 L547.90,216.78 L551.64,221.41 L555.38,226.34 L559.12,231.08 L562.86,235.96 L566.60,240.44 L570.34,244.76 L574.08,248.79 L577.82,252.94 L581.56,256.65 L585.30,260.45 L589.04,264.15 L592.78,267.78 L596.52,271.21 L600.26,274.47 L604.00,277.27 L607.74,279.91 L611.48,282.25 L615.22,284.46 L618.96,286.14 L622.70,287.89 L626.44,290.60 L630.18,293.12 L633.92,295.68 L637.66,298.53 L641.40,301.39 L645.14,304.72"/>
<path d="M349.68,72.99 L353.42,72.92 L357.16,72.86 L360.90,72.82 L364.64,72.82 L368.38,72.85 L372.12,72.93 L375.86,73.16 L379.60,73.52 L383.34,73.97 L387.08,74.57 L390.82,75.36 L394.56,76.34 L398.30,77.36 L402.04,78.49 L405.78,79.68 L409.52,81.00 L413.26,82.25 L417.00,83.40 L420.74,84.64 L424.48,85.98 L428.22,87.18 L431.96,88.59 L435.70,89.95 L439.44,91.70 L443.18,93.83 L446.92,95.86 L450.66,98.20 L454.40,100.86 L458.14,103.56 L461.88,106.73 L465.62,110.18 L469.36,113.66 L473.10,117.69 L476.84,121.85 L480.58,125.91 L484.32,130.20 L488.06,134.27 L491.80,138.07 L495.54,141.97 L499.28,145.73 L503.02,149.64 L506.76,153.56 L510.50,157.30 L514.24,161.10 L517.98,165.25 L521.72,169.15 L525.46,173.24 L529.20,176.99 L532.94,180.95 L536.68,185.16 L540.42,189.18 L544.16,192.75 L547.90,196.45 L551.64,199.71 L555.38,203.17 L559.12,206.68 L562.86,209.95 L566.60,213.63 L570.34,217.61 L574.08,221.49 L577.82,225.27 L581.56,228.53 L585.30,231.73 L589.04,234.44 L592.78,236.85 L596.52,238.90 L600.26,240.49 L604.00,242.32 L607.74,243.73 L611.48,244.83 L615.22,246.72 L618.96,248.06 L622.70,249.56 L626.44,251.39 L630.18,254.30 L633.92,257.68 L637.66,261.14 L641.40,264.15 L645.14,267.64"/>
<path d="M349.68,72.99 L353.42,72.66 L357.16,72.31 L360.90,71.96 L364.64,71.63 L368.38,71.31 L372.12,71.04 L375.86,70.87 L379.60,70.77 L383.34,70.78 L387.08,70.89 L390.82,71.05 L394.56,71.35 L398.30,71.83 L402.04,72.40 L405.78,72.99 L409.52,73.74 L413.26,74.53 L417.00,75.39 L420.74,76.25 L424.48,77.16 L428.22,78.11 L431.96,79.33 L435.70,80.46 L439.44,81.82 L443.18,83.56 L446.92,85.47 L450.66,87.31 L454.40,89.29 L458.14,91.61 L461.88,94.21 L465.62,96.90 L469.36,99.49 L473.10,102.52 L476.84,105.79 L480.58,109.22 L484.32,112.78 L488.06,116.41 L491.80,120.05 L495.54,123.88 L499.28,127.44 L503.02,131.24 L506.76,135.02 L510.50,138.52 L514.24,142.01 L517.98,145.28 L521.72,148.69 L525.46,152.47 L529.20,155.92 L532.94,159.25 L536.68,162.22 L540.42,165.10 L544.16,168.37 L547.90,171.17 L551.64,173.79 L555.38,176.77 L559.12,179.21 L562.86,182.03 L566.60,184.78 L570.34,187.12 L574.08,189.13 L577.82,190.75 L581.56,191.52 L585.30,193.17 L589.04,195.22 L592.78,196.97 L596.52,198.36 L600.26,200.06 L604.00,201.68 L607.74,203.57 L611.48,205.28 L615.22,205.96 L618.96,206.79 L622.70,207.87 L626.44,208.91 L630.18,209.58 L633.92,210.04 L637.66,210.14 L641.40,210.70 L645.14,211.42"/>
<path d="M349.68,72.99 L353.42,73.01 L357.16,73.03 L360.90,73.07 L364.64,73.13 L368.38,73.21 L372.12,73.36 L375.86,73.62 L379.60,73.99 L383.34,74.48 L387.08,75.11 L390.82,75.89 L394.56,76.79 L398.30,77.61 L402.04,78.48 L405.78,79.32 L409.52,80.21 L413.26,81.22 L417.00,82.32 L420.74,83.59 L424.48,85.28 L428.22,87.23 L431.96,89.43 L435.70,91.82 L439.44,94.48 L443.18,97.38 L446.92,100.36 L450.66,103.39 L454.40,106.37 L458.14,109.33 L461.88,112.34 L465.62,115.21 L469.36,118.29 L473.10,121.33 L476.84,124.35 L480.58,127.67 L484.32,131.38 L488.06,135.05 L491.80,139.13 L495.54,143.11 L499.28,147.35 L503.02,151.77 L506.76,156.27 L510.50,160.40 L514.24,164.79 L517.98,168.78 L521.72,172.70 L525.46,176.91 L529.20,181.03 L532.94,185.23 L536.68,189.23 L540.42,193.12 L544.16,196.61 L547.90,200.22 L551.64,203.49 L555.38,207.12 L559.12,210.83 L562.86,214.97 L566.60,218.82 L570.34,223.52 L574.08,227.68 L577.82,232.22 L581.56,236.41 L585.30,240.10 L589.04,243.62 L592.78,247.80 L596.52,251.07 L600.26,254.43 L604.00,257.57 L607.74,260.97 L611.48,264.95 L615.22,269.52 L618.96,273.27 L622.70,277.64 L626.44,282.59 L630.18,287.58 L633.92,291.67 L637.66,295.16 L641.40,298.16 L645.14,301.35"/>
<path d="M349.68,72.99 L353.42,73.27 L357.16,73.55 L360.90,73.88 L364.64,74.28 L368.38,74.76 L372.12,75.36 L375.86,76.08 L379.60,76.94 L383.34,77.93 L387.08,79.01 L390.82,80.21 L394.56,81.62 L398.30,83.18 L402.04,84.95 L405.78,86.93 L409.52,89.08 L413.26,91.48 L417.00,94.03 L420.74,96.60 L424.48,99.27 L428.22,102.05 L431.96,104.87 L435.70,107.82 L439.44,110.89 L443.18,114.00 L446.92,117.06 L450.66,120.31 L454.40,123.49 L458.14,126.66 L461.88,129.73 L465.62,132.85 L469.36,135.86 L473.10,139.23 L476.84,142.68 L480.58,146.41 L484.32,150.34 L488.06,154.54 L491.80,158.68 L495.54,162.93 L499.28,167.31 L503.02,171.82 L506.76,176.16 L510.50,180.49 L514.24,184.62 L517.98,188.89 L521.72,193.18 L525.46,197.22 L529.20,200.71 L532.94,204.51 L536.68,208.36 L540.42,212.44 L544.16,216.60 L547.90,221.13 L551.64,225.53 L555.38,230.44 L559.12,235.26 L562.86,239.96 L566.60,244.38 L570.34,248.21 L574.08,252.05 L577.82,256.15 L581.56,259.88 L585.30,263.55 L589.04,267.57 L592.78,271.57 L596.52,275.36 L600.26,279.15 L604.00,283.49 L607.74,288.36 L611.48,293.25 L615.22,297.94 L618.96,302.64 L622.70,307.78 L626.44,312.81 L630.18,317.10 L633.92,321.26 L637.66,325.13 L641.40,328.98 L645.14,333.04"/>
<path d="M349.68,72.99 L353.42,72.90 L357.16,72.81 L360.90,72.74 L364.64,72.72 L368.38,72.77 L372.12,72.95 L375.86,73.23 L379.60,73.64 L383.34,74.17 L387.08,74.87 L390.82,75.70 L394.56,76.64 L398.30,77.70 L402.04,78.88 L405.78,80.19 L409.52,81.53 L413.26,82.87 L417.00,84.21 L420.74,85.79 L424.48,87.55 L428.22,89.47 L431.96,91.32 L435.70,93.37 L439.44,95.50 L443.18,97.80 L446.92,100.06 L450.66,102.36 L454.40,104.76 L458.14,107.42 L461.88,110.27 L465.62,113.42 L469.36,116.64 L473.10,119.96 L476.84,123.47 L480.58,127.00 L484.32,130.63 L488.06,134.28 L491.80,137.66 L495.54,140.95 L499.28,144.25 L503.02,147.29 L506.76,150.74 L510.50,154.33 L514.24,158.30 L517.98,162.30 L521.72,166.87 L525.46,171.30 L529.20,176.02 L532.94,180.74 L536.68,185.39 L540.42,189.51 L544.16,193.77 L547.90,197.21 L551.64,200.70 L555.38,203.79 L559.12,206.75 L562.86,209.47 L566.60,212.18 L570.34,215.13 L574.08,218.52 L577.82,222.01 L581.56,225.65 L585.30,228.97 L589.04,232.60 L592.78,236.44 L596.52,239.86 L600.26,243.71 L604.00,247.67 L607.74,251.13 L611.48,255.53 L615.22,259.95 L618.96,263.86 L622.70,268.56 L626.44,271.78 L630.18,275.64 L633.92,279.55 L637.66,282.47 L641.40,285.13 L645.14,288.03"/>
<path d="M349.68,72.99 L353.42,73.56 L357.16,74.14 L360.90,74.76 L364.64,75.45 L368.38,76.20 L372.12,77.07 L375.86,78.08 L379.60,79.20 L383.34,80.53 L387.08,81.95 L390.82,83.50 L394.56,85.30 L398.30,87.19 L402.04,89.25 L405.78,91.46 L409.52,93.72 L413.26,96.20 L417.00,98.76 L420.74,101.38 L424.48,104.05 L428.22,106.78 L431.96,109.50 L435.70,112.38 L439.44,115.37 L443.18,118.66 L446.92,121.98 L450.66,125.44 L454.40,128.82 L458.14,132.26 L461.88,135.71 L465.62,139.23 L469.36,142.67 L473.10,146.30 L476.84,149.97 L480.58,153.87 L484.32,158.13 L488.06,162.59 L491.80,166.83 L495.54,171.09 L499.28,175.37 L503.02,179.69 L506.76,184.21 L510.50,188.65 L514.24,193.04 L517.98,197.99 L521.72,202.86 L525.46,207.92 L529.20,213.32 L532.94,218.84 L536.68,224.20 L540.42,229.51 L544.16,234.45 L547.90,239.91 L551.64,245.16 L555.38,250.61 L559.12,255.82 L562.86,261.09 L566.60,266.32 L570.34,271.03 L574.08,275.16 L577.82,279.06 L581.56,282.51 L585.30,286.02 L589.04,289.32 L592.78,292.29 L596.52,296.01 L600.26,299.55 L604.00,303.04 L607.74,306.25 L611.48,309.22 L615.22,312.69 L618.96,316.70 L622.70,319.85 L626.44,323.17 L630.18,326.98 L633.92,330.96 L637.66,335.08 L641.40,338.86 L645.14,342.29"/>
<path d="M349.68,72.99 L353.42,72.83 L357.16,72.71 L360.90,72.64 L364.64,72.64 L368.38,72.69 L372.12,72.83 L375.86,73.03 L379.60,73.36 L383.34,73.85 L387.08,74.49 L390.82,75.27 L394.56,76.24 L398.30,77.32 L402.04,78.56 L405.78,79.78 L409.52,81.12 L413.26,82.65 L417.00,84.27 L420.74,85.96 L424.48,87.60 L428.22,89.40 L431.96,91.41 L435.70,93.52 L439.44,95.71 L443.18,98.14 L446.92,100.81 L450.66,103.60 L454.40,106.31 L458.14,109.29 L461.88,112.17 L465.62,115.03 L469.36,117.89 L473.10,121.12 L476.84,124.83 L480.58,128.66 L484.32,132.79 L488.06,137.19 L491.80,141.68 L495.54,146.42 L499.28,151.05 L503.02,155.20 L506.76,159.92 L510.50,164.27 L514.24,168.14 L517.98,171.96 L521.72,175.66 L525.46,179.09 L529.20,182.37 L532.94,185.32 L536.68,188.37 L540.42,191.91 L544.16,195.30 L547.90,198.62 L551.64,201.93 L555.38,205.76 L559.12,209.29 L562.86,213.00 L566.60,216.84 L570.34,220.88 L574.08,225.01 L577.82,229.64 L581.56,233.74 L585.30,237.88 L589.04,242.20 L592.78,245.97 L596.52,249.86 L600.26,253.49 L604.00,256.67 L607.74,260.16 L611.48,263.46 L615.22,266.41 L618.96,269.64 L622.70,271.86 L626.44,274.96 L630.18,277.98 L633.92,280.90 L637.66,283.86 L641.40,286.59 L645.14,289.33"/>
<path d="M349.68,72.99 L353.42,73.54 L357.16,74.09 L360.90,74.66 L364.64,75.25 L368.38,75.87 L372.12,76.56 L375.86,77.31 L379.60,78.20 L383.34,79.21 L387.08,80.29 L390.82,81.47 L394.56,82.80 L398.30,84.32 L402.04,85.96 L405.78,87.75 L409.52,89.67 L413.26,91.83 L417.00,94.19 L420.74,96.59 L424.48,98.99 L428.22,101.53 L431.96,103.97 L435.70,106.49 L439.44,108.75 L443.18,110.97 L446.92,113.24 L450.66,115.69 L454.40,118.47 L458.14,121.53 L461.88,124.63 L465.62,128.00 L469.36,131.87 L473.10,135.79 L476.84,139.88 L480.58,143.64 L484.32,147.83 L488.06,152.10 L491.80,156.75 L495.54,161.12 L499.28,165.78 L503.02,170.60 L506.76,175.39 L510.50,179.67 L514.24,183.86 L517.98,187.79 L521.72,191.62 L525.46,195.41 L529.20,199.20 L532.94,203.37 L536.68,207.39 L540.42,211.35 L544.16,215.46 L547.90,219.89 L551.64,224.32 L555.38,228.45 L559.12,232.35 L562.86,236.72 L566.60,240.78 L570.34,244.82 L574.08,248.91 L577.82,253.32 L581.56,257.89 L585.30,262.19 L589.04,266.08 L592.78,270.51 L596.52,274.91 L600.26,279.15 L604.00,283.26 L607.74,286.76 L611.48,290.24 L615.22,293.18 L618.96,296.17 L622.70,299.13 L626.44,301.70 L630.18,303.97 L633.92,306.93 L637.66,309.97 L641.40,313.72 L645.14,317.27"/>
<path d="M349.68,72.99 L353.42,73.05 L357.16,73.11 L360.90,73.18 L364.64,73.28 L368.38,73.43 L372.12,73.62 L375.86,73.87 L379.60,74.22 L383.34,74.68 L387.08,75.25 L390.82,75.97 L394.56,76.83 L398.30,77.80 L402.04,78.89 L405.78,80.01 L409.52,81.25 L413.26,82.50 L417.00,83.64 L420.74,84.66 L424.48,85.82 L428.22,87.08 L431.96,88.53 L435.70,90.17 L439.44,91.97 L443.18,93.93 L446.92,96.21 L450.66,98.34 L454.40,100.62 L458.14,103.10 L461.88,105.64 L465.62,108.50 L469.36,111.62 L473.10,114.86 L476.84,118.28 L480.58,121.69 L484.32,125.07 L488.06,128.48 L491.80,132.00 L495.54,135.59 L499.28,139.29 L503.02,143.09 L506.76,146.99 L510.50,150.69 L514.24,154.20 L517.98,157.25 L521.72,160.20 L525.46,162.88 L529.20,165.55 L532.94,167.98 L536.68,170.84 L540.42,173.71 L544.16,176.16 L547.90,178.62 L551.64,181.13 L555.38,183.91 L559.12,187.22 L562.86,190.05 L566.60,192.95 L570.34,196.41 L574.08,199.34 L577.82,201.49 L581.56,203.62 L585.30,204.94 L589.04,206.31 L592.78,207.45 L596.52,208.40 L600.26,209.80 L604.00,211.37 L607.74,212.36 L611.48,213.48 L615.22,214.29 L618.96,214.83 L622.70,215.27 L626.44,215.49 L630.18,215.54 L633.92,215.51 L637.66,215.49 L641.40,215.82 L645.14,216.38"/>
<path d="M349.68,72.99 L353.42,73.10 L357.16,73.24 L360.90,73.43 L364.64,73.69 L368.38,74.01 L372.12,74.42 L375.86,74.93 L379.60,75.54 L383.34,76.29 L387.08,77.16 L390.82,78.20 L394.56,79.39 L398.30,80.70 L402.04,82.03 L405.78,83.53 L409.52,85.18 L413.26,86.93 L417.00,88.77 L420.74,90.75 L424.48,93.07 L428.22,95.62 L431.96,98.30 L435.70,101.01 L439.44,103.73 L443.18,106.56 L446.92,109.61 L450.66,112.67 L454.40,115.73 L458.14,118.82 L461.88,122.03 L465.62,125.29 L469.36,128.68 L473.10,131.92 L476.84,135.18 L480.58,138.78 L484.32,142.51 L488.06,146.36 L491.80,150.57 L495.54,154.97 L499.28,159.60 L503.02,164.34 L506.76,169.04 L510.50,173.92 L514.24,178.44 L517.98,182.87 L521.72,187.16 L525.46,191.24 L529.20,195.01 L532.94,198.62 L536.68,202.43 L540.42,206.64 L544.16,210.60 L547.90,214.39 L551.64,218.10 L555.38,222.46 L559.12,226.76 L562.86,230.82 L566.60,234.43 L570.34,238.23 L574.08,241.77 L577.82,245.87 L581.56,249.97 L585.30,254.55 L589.04,259.10 L592.78,264.30 L596.52,269.10 L600.26,273.66 L604.00,277.85 L607.74,281.84 L611.48,285.47 L615.22,289.03 L618.96,291.86 L622.70,294.82 L626.44,297.90 L630.18,301.17 L633.92,304.76 L637.66,308.25 L641.40,311.53 L645.14,315.26"/>
<path d="M349.68,72.99 L353.42,73.52 L357.16,74.07 L360.90,74.66 L364.64,75.31 L368.38,76.05 L372.12,76.89 L375.86,77.87 L379.60,78.99 L383.34,80.23 L387.08,81.63 L390.82,83.20 L394.56,84.89 L398.30,86.70 L402.04,88.61 L405.78,90.62 L409.52,92.77 L413.26,95.07 L417.00,97.40 L420.74,99.84 L424.48,102.38 L428.22,105.03 L431.96,107.78 L435.70,110.54 L439.44,113.49 L443.18,116.52 L446.92,119.66 L450.66,123.01 L454.40,126.59 L458.14,130.39 L461.88,134.42 L465.62,138.71 L469.36,143.35 L473.10,148.17 L476.84,152.96 L480.58,158.01 L484.32,162.79 L488.06,167.66 L491.80,172.47 L495.54,176.98 L499.28,181.51 L503.02,186.22 L506.76,190.30 L510.50,194.81 L514.24,199.35 L517.98,203.72 L521.72,208.46 L525.46,213.23 L529.20,217.84 L532.94,222.40 L536.68,226.92 L540.42,231.41 L544.16,235.92 L547.90,240.15 L551.64,244.58 L555.38,248.96 L559.12,253.83 L562.86,258.35 L566.60,262.55 L570.34,266.62 L574.08,270.55 L577.82,274.06 L581.56,277.88 L585.30,281.71 L589.04,285.53 L592.78,289.68 L596.52,294.00 L600.26,298.57 L604.00,302.78 L607.74,306.10 L611.48,309.42 L615.22,312.63 L618.96,315.73 L622.70,318.46 L626.44,320.78 L630.18,323.43 L633.92,326.71 L637.66,329.85 L641.40,333.09 L645.14,336.26"/>
<path d="M349.68,72.99 L353.42,73.32 L357.16,73.67 L360.90,74.05 L364.64,74.47 L368.38,74.92 L372.12,75.47 L375.86,76.09 L379.60,76.83 L383.34,77.68 L387.08,78.69 L390.82,79.78 L394.56,81.11 L398.30,82.53 L402.04,84.17 L405.78,85.87 L409.52,87.81 L413.26,89.96 L417.00,92.41 L420.74,94.77 L424.48,97.37 L428.22,99.99 L431.96,102.87 L435.70,105.87 L439.44,108.96 L443.18,112.00 L446.92,115.34 L450.66,118.60 L454.40,122.02 L458.14,125.51 L461.88,128.95 L465.62,132.44 L469.36,135.95 L473.10,139.57 L476.84,143.43 L480.58,147.45 L484.32,151.67 L488.06,155.70 L491.80,159.96 L495.54,164.66 L499.28,169.45 L503.02,174.35 L506.76,178.86 L510.50,183.63 L514.24,188.60 L517.98,193.27 L521.72,197.97 L525.46,202.78 L529.20,207.43 L532.94,212.14 L536.68,216.57 L540.42,221.37 L544.16,226.13 L547.90,230.32 L551.64,234.43 L555.38,239.09 L559.12,243.79 L562.86,248.32 L566.60,252.21 L570.34,256.31 L574.08,260.84 L577.82,265.38 L581.56,268.99 L585.30,272.56 L589.04,276.55 L592.78,280.99 L596.52,284.93 L600.26,288.78 L604.00,292.79 L607.74,297.09 L611.48,301.72 L615.22,305.77 L618.96,309.65 L622.70,314.06 L626.44,318.48 L630.18,322.44 L633.92,326.61 L637.66,330.77 L641.40,334.93 L645.14,338.96"/>
<path d="M349.68,72.99 L353.42,72.98 L357.16,72.97 L360.90,72.98 L364.64,72.99 L368.38,73.04 L372.12,73.11 L375.86,73.22 L379.60,73.39 L383.34,73.65 L387.08,73.96 L390.82,74.35 L394.56,74.83 L398.30,75.50 L402.04,76.42 L405.78,77.43 L409.52,78.48 L413.26,79.63 L417.00,80.99 L420.74,82.38 L424.48,83.81 L428.22,85.13 L431.96,86.55 L435.70,88.22 L439.44,90.18 L443.18,92.39 L446.92,95.01 L450.66,97.99 L454.40,101.18 L458.14,104.60 L461.88,107.99 L465.62,111.42 L469.36,114.86 L473.10,118.33 L476.84,121.77 L480.58,125.30 L484.32,128.88 L488.06,132.80 L491.80,136.80 L495.54,140.70 L499.28,144.70 L503.02,148.48 L506.76,152.05 L510.50,155.71 L514.24,159.23 L517.98,163.14 L521.72,167.07 L525.46,171.02 L529.20,175.56 L532.94,180.42 L536.68,185.10 L540.42,189.88 L544.16,194.27 L547.90,198.88 L551.64,203.23 L555.38,207.46 L559.12,211.85 L562.86,215.95 L566.60,219.87 L570.34,223.61 L574.08,227.12 L577.82,231.14 L581.56,234.74 L585.30,238.09 L589.04,242.24 L592.78,246.26 L596.52,250.00 L600.26,253.30 L604.00,256.62 L607.74,260.14 L611.48,264.22 L615.22,267.57 L618.96,270.75 L622.70,274.05 L626.44,277.98 L630.18,281.75 L633.92,285.14 L637.66,287.92 L641.40,291.08 L645.14,294.48"/>
<path d="M349.68,72.99 L353.42,73.56 L357.16,74.16 L360.90,74.82 L364.64,75.55 L368.38,76.37 L372.12,77.30 L375.86,78.38 L379.60,79.65 L383.34,81.04 L387.08,82.53 L390.82,84.16 L394.56,85.98 L398.30,87.96 L402.04,90.05 L405.78,92.27 L409.52,94.71 L413.26,97.28 L417.00,99.92 L420.74,102.59 L424.48,105.23 L428.22,108.00 L431.96,110.83 L435.70,113.78 L439.44,116.88 L443.18,120.08 L446.92,123.41 L450.66,126.94 L454.40,130.53 L458.14,134.23 L461.88,137.91 L465.62,141.62 L469.36,145.55 L473.10,149.59 L476.84,153.77 L480.58,158.12 L484.32,162.65 L488.06,167.23 L491.80,172.00 L495.54,176.74 L499.28,181.87 L503.02,187.14 L506.76,192.08 L510.50,196.97 L514.24,202.02 L517.98,206.94 L521.72,211.83 L525.46,216.38 L529.20,220.78 L532.94,225.60 L536.68,230.44 L540.42,234.41 L544.16,238.31 L547.90,242.53 L551.64,246.76 L555.38,251.00 L559.12,255.11 L562.86,258.89 L566.60,263.31 L570.34,268.04 L574.08,272.46 L577.82,276.79 L581.56,281.23 L585.30,286.09 L589.04,291.22 L592.78,296.53 L596.52,301.45 L600.26,306.82 L604.00,312.07 L607.74,317.20 L611.48,322.23 L615.22,327.27 L618.96,332.35 L622.70,337.19 L626.44,342.35 L630.18,347.65 L633.92,353.49 L637.66,359.08 L641.40,364.55 L645.14,369.82"/>
<path d="M349.68,72.99 L353.42,72.74 L357.16,72.48 L360.90,72.23 L364.64,71.98 L368.38,71.79 L372.12,71.66 L375.86,71.57 L379.60,71.54 L383.34,71.64 L387.08,71.85 L390.82,72.23 L394.56,72.64 L398.30,73.08 L402.04,73.62 L405.78,74.26 L409.52,74.94 L413.26,75.75 L417.00,76.47 L420.74,77.22 L424.48,77.95 L428.22,78.73 L431.96,79.47 L435.70,80.62 L439.44,81.75 L443.18,83.17 L446.92,84.89 L450.66,86.97 L454.40,89.54 L458.14,92.53 L461.88,95.32 L465.62,98.23 L469.36,101.37 L473.10,104.79 L476.84,108.09 L480.58,111.41 L484.32,114.40 L488.06,117.49 L491.80,120.92 L495.54,124.07 L499.28,126.74 L503.02,129.84 L506.76,132.47 L510.50,135.47 L514.24,138.16 L517.98,140.71 L521.72,143.70 L525.46,146.90 L529.20,149.62 L532.94,152.20 L536.68,154.31 L540.42,156.55 L544.16,158.70 L547.90,160.56 L551.64,162.54 L555.38,164.86 L559.12,167.68 L562.86,171.51 L566.60,175.47 L570.34,179.38 L574.08,182.49 L577.82,185.29 L581.56,187.95 L585.30,190.32 L589.04,192.25 L592.78,194.33 L596.52,196.89 L600.26,199.75 L604.00,202.63 L607.74,205.70 L611.48,208.95 L615.22,211.46 L618.96,213.56 L622.70,214.85 L626.44,216.84 L630.18,219.21 L633.92,221.09 L637.66,222.89 L641.40,224.98 L645.14,227.21"/>
<path d="M349.68,72.99 L353.42,73.95 L357.16,74.93 L360.90,75.95 L364.64,77.03 L368.38,78.15 L372.12,79.33 L375.86,80.60 L379.60,81.99 L383.34,83.56 L387.08,85.25 L390.82,87.05 L394.56,88.98 L398.30,90.95 L402.04,93.02 L405.78,95.10 L409.52,97.12 L413.26,99.21 L417.00,101.45 L420.74,103.91 L424.48,106.55 L428.22,109.38 L431.96,112.31 L435.70,115.56 L439.44,118.86 L443.18,122.39 L446.92,125.90 L450.66,129.82 L454.40,133.85 L458.14,138.00 L461.88,142.24 L465.62,146.76 L469.36,151.37 L473.10,156.52 L476.84,161.57 L480.58,166.61 L484.32,172.04 L488.06,177.34 L491.80,182.81 L495.54,188.39 L499.28,193.64 L503.02,199.07 L506.76,204.24 L510.50,209.50 L514.24,214.77 L517.98,219.77 L521.72,224.97 L525.46,230.53 L529.20,235.91 L532.94,241.88 L536.68,247.54 L540.42,253.15 L544.16,259.05 L547.90,264.77 L551.64,270.68 L555.38,276.64 L559.12,282.65 L562.86,288.60 L566.60,294.67 L570.34,300.87 L574.08,306.29 L577.82,310.68 L581.56,314.81 L585.30,318.92 L589.04,323.14 L592.78,327.49 L596.52,331.58 L600.26,336.37 L604.00,341.33 L607.74,346.48 L611.48,351.27 L615.22,356.13 L618.96,360.54 L622.70,364.81 L626.44,369.53 L630.18,374.58 L633.92,379.74 L637.66,385.05 L641.40,390.24 L645.14,395.85"/>
<path d="M349.68,72.99 L353.42,73.99 L357.16,75.02 L360.90,76.10 L364.64,77.26 L368.38,78.52 L372.12,79.89 L375.86,81.42 L379.60,83.13 L383.34,85.03 L387.08,87.08 L390.82,89.27 L394.56,91.60 L398.30,94.00 L402.04,96.46 L405.78,99.03 L409.52,101.70 L413.26,104.35 L417.00,107.07 L420.74,109.84 L424.48,112.79 L428.22,115.95 L431.96,119.11 L435.70,122.28 L439.44,125.70 L443.18,129.30 L446.92,133.12 L450.66,137.04 L454.40,141.10 L458.14,145.38 L461.88,149.90 L465.62,154.64 L469.36,159.29 L473.10,163.98 L476.84,168.85 L480.58,173.81 L484.32,178.94 L488.06,183.95 L491.80,188.91 L495.54,194.32 L499.28,200.01 L503.02,205.89 L506.76,211.47 L510.50,217.00 L514.24,222.49 L517.98,228.13 L521.72,233.59 L525.46,238.85 L529.20,244.04 L532.94,249.33 L536.68,254.41 L540.42,259.64 L544.16,264.53 L547.90,269.49 L551.64,274.50 L555.38,279.68 L559.12,284.74 L562.86,289.91 L566.60,294.50 L570.34,298.86 L574.08,302.81 L577.82,306.63 L581.56,310.08 L585.30,313.47 L589.04,316.93 L592.78,321.05 L596.52,325.20 L600.26,329.74 L604.00,334.74 L607.74,339.86 L611.48,345.40 L615.22,351.51 L618.96,357.18 L622.70,363.21 L626.44,368.98 L630.18,373.99 L633.92,378.40 L637.66,382.34 L641.40,385.87 L645.14,389.71"/>
<path d="M349.68,72.99 L353.42,73.68 L357.16,74.38 L360.90,75.13 L364.64,75.94 L368.38,76.83 L372.12,77.84 L375.86,78.98 L379.60,80.25 L383.34,81.60 L387.08,83.04 L390.82,84.55 L394.56,86.21 L398.30,87.96 L402.04,89.79 L405.78,91.76 L409.52,93.92 L413.26,96.11 L417.00,98.47 L420.74,100.98 L424.48,103.54 L428.22,106.09 L431.96,108.71 L435.70,111.28 L439.44,114.13 L443.18,117.12 L446.92,120.20 L450.66,123.45 L454.40,126.82 L458.14,130.43 L461.88,134.11 L465.62,137.99 L469.36,142.01 L473.10,146.00 L476.84,150.02 L480.58,154.35 L484.32,158.84 L488.06,163.57 L491.80,168.34 L495.54,172.71 L499.28,177.24 L503.02,181.84 L506.76,186.67 L510.50,191.32 L514.24,196.26 L517.98,200.87 L521.72,205.97 L525.46,210.96 L529.20,216.14 L532.94,221.22 L536.68,225.97 L540.42,230.66 L544.16,235.91 L547.90,241.03 L551.64,246.52 L555.38,251.97 L559.12,257.09 L562.86,262.67 L566.60,267.79 L570.34,272.61 L574.08,277.10 L577.82,280.94 L581.56,284.72 L585.30,288.71 L589.04,292.66 L592.78,296.71 L596.52,300.26 L600.26,304.49 L604.00,308.77 L607.74,313.22 L611.48,317.80 L615.22,322.61 L618.96,326.91 L622.70,331.50 L626.44,335.63 L630.18,340.20 L633.92,344.10 L637.66,347.76 L641.40,350.89 L645.14,354.63"/>
<path d="M349.68,72.99 L353.42,73.23 L357.16,73.46 L360.90,73.72 L364.64,74.02 L368.38,74.35 L372.12,74.79 L375.86,75.31 L379.60,75.93 L383.34,76.69 L387.08,77.53 L390.82,78.44 L394.56,79.46 L398.30,80.59 L402.04,81.95 L405.78,83.38 L409.52,84.89 L413.26,86.57 L417.00,88.59 L420.74,90.92 L424.48,93.32 L428.22,95.75 L431.96,98.43 L435.70,101.27 L439.44,104.02 L443.18,106.72 L446.92,109.44 L450.66,112.37 L454.40,115.12 L458.14,117.73 L461.88,120.38 L465.62,123.49 L469.36,126.92 L473.10,130.49 L476.84,134.28 L480.58,138.35 L484.32,142.65 L488.06,146.99 L491.80,151.07 L495.54,154.95 L499.28,159.05 L503.02,163.08 L506.76,166.85 L510.50,170.85 L514.24,174.98 L517.98,179.00 L521.72,183.11 L525.46,187.19 L529.20,191.43 L532.94,196.01 L536.68,200.12 L540.42,203.80 L544.16,207.68 L547.90,211.27 L551.64,214.89 L555.38,218.16 L559.12,221.70 L562.86,225.44 L566.60,229.36 L570.34,233.04 L574.08,237.25 L577.82,240.86 L581.56,244.61 L585.30,248.41 L589.04,252.26 L592.78,256.70 L596.52,261.41 L600.26,265.69 L604.00,270.34 L607.74,274.59 L611.48,278.54 L615.22,282.35 L618.96,286.09 L622.70,289.75 L626.44,293.77 L630.18,297.86 L633.92,302.16 L637.66,306.37 L641.40,310.61 L645.14,314.35"/>
<path d="M349.68,72.99 L353.42,73.10 L357.16,73.24 L360.90,73.42 L364.64,73.64 L368.38,73.89 L372.12,74.18 L375.86,74.55 L379.60,75.05 L383.34,75.69 L387.08,76.46 L390.82,77.39 L394.56,78.47 L398.30,79.68 L402.04,80.95 L405.78,82.27 L409.52,83.64 L413.26,85.11 L417.00,86.71 L420.74,88.49 L424.48,90.31 L428.22,92.26 L431.96,94.35 L435.70,96.62 L439.44,98.81 L443.18,101.13 L446.92,103.47 L450.66,105.94 L454.40,108.71 L458.14,111.55 L461.88,114.22 L465.62,117.19 L469.36,120.18 L473.10,123.26 L476.84,126.52 L480.58,129.60 L484.32,132.80 L488.06,136.36 L491.80,140.07 L495.54,143.72 L499.28,147.39 L503.02,150.94 L506.76,154.97 L510.50,158.76 L514.24,162.02 L517.98,164.99 L521.72,168.14 L525.46,171.46 L529.20,174.82 L532.94,177.92 L536.68,181.07 L540.42,184.80 L544.16,188.60 L547.90,192.01 L551.64,195.69 L555.38,199.35 L559.12,202.94 L562.86,207.06 L566.60,211.22 L570.34,215.71 L574.08,220.32 L577.82,224.83 L581.56,229.14 L585.30,232.70 L589.04,235.63 L592.78,238.13 L596.52,240.46 L600.26,243.34 L604.00,245.48 L607.74,247.71 L611.48,250.23 L615.22,252.01 L618.96,253.63 L622.70,254.99 L626.44,255.32 L630.18,256.18 L633.92,257.49 L637.66,259.00 L641.40,261.38 L645.14,264.00"/>
<path d="M349.68,72.99 L353.42,73.40 L357.16,73.80 L360.90,74.22 L364.64,74.67 L368.38,75.15 L372.12,75.68 L375.86,76.30 L379.60,77.05 L383.34,77.93 L387.08,78.96 L390.82,80.03 L394.56,81.18 L398.30,82.50 L402.04,83.87 L405.78,85.39 L409.52,87.02 L413.26,88.81 L417.00,90.75 L420.74,92.86 L424.48,94.96 L428.22,97.17 L431.96,99.52 L435.70,101.88 L439.44,104.27 L443.18,106.72 L446.92,109.24 L450.66,111.83 L454.40,114.19 L458.14,116.36 L461.88,118.63 L465.62,121.18 L469.36,123.99 L473.10,127.11 L476.84,130.51 L480.58,134.32 L484.32,138.23 L488.06,142.18 L491.80,146.23 L495.54,150.41 L499.28,154.67 L503.02,158.73 L506.76,162.84 L510.50,166.93 L514.24,171.37 L517.98,175.34 L521.72,179.09 L525.46,182.74 L529.20,186.56 L532.94,190.55 L536.68,194.55 L540.42,198.25 L544.16,202.21 L547.90,206.13 L551.64,210.43 L555.38,215.19 L559.12,220.00 L562.86,225.05 L566.60,230.38 L570.34,235.68 L574.08,241.36 L577.82,246.37 L581.56,251.04 L585.30,255.67 L589.04,260.50 L592.78,264.69 L596.52,269.47 L600.26,274.09 L604.00,278.44 L607.74,282.44 L611.48,286.23 L615.22,289.60 L618.96,293.22 L622.70,295.82 L626.44,298.54 L630.18,301.36 L633.92,304.13 L637.66,306.57 L641.40,308.98 L645.14,311.70"/>
<path d="M349.68,72.99 L353.42,73.56 L357.16,74.14 L360.90,74.74 L364.64,75.37 L368.38,76.05 L372.12,76.81 L375.86,77.60 L379.60,78.51 L383.34,79.58 L387.08,80.79 L390.82,82.08 L394.56,83.61 L398.30,85.24 L402.04,87.12 L405.78,89.06 L409.52,91.15 L413.26,93.33 L417.00,95.79 L420.74,98.34 L424.48,100.90 L428.22,103.48 L431.96,106.16 L435.70,108.87 L439.44,111.76 L443.18,114.81 L446.92,117.87 L450.66,121.12 L454.40,124.37 L458.14,128.00 L461.88,132.00 L465.62,136.39 L469.36,140.93 L473.10,145.68 L476.84,150.57 L480.58,155.76 L484.32,160.77 L488.06,165.51 L491.80,170.03 L495.54,174.35 L499.28,178.80 L503.02,183.69 L506.76,188.64 L510.50,193.42 L514.24,198.40 L517.98,203.37 L521.72,208.53 L525.46,213.84 L529.20,218.57 L532.94,223.29 L536.68,228.48 L540.42,234.22 L544.16,240.11 L547.90,246.32 L551.64,252.86 L555.38,259.53 L559.12,266.00 L562.86,272.68 L566.60,278.41 L570.34,283.82 L574.08,288.88 L577.82,293.24 L581.56,298.12 L585.30,303.40 L589.04,308.51 L592.78,314.06 L596.52,319.48 L600.26,325.02 L604.00,331.05 L607.74,336.93 L611.48,342.50 L615.22,347.82 L618.96,352.66 L622.70,357.96 L626.44,363.29 L630.18,368.48 L633.92,373.44 L637.66,378.48 L641.40,383.46 L645.14,388.72"/>
<path d="M349.68,72.99 L353.42,73.03 L357.16,73.06 L360.90,73.11 L364.64,73.20 L368.38,73.36 L372.12,73.62 L375.86,73.94 L379.60,74.38 L383.34,74.97 L387.08,75.63 L390.82,76.34 L394.56,77.15 L398.30,78.08 L402.04,79.12 L405.78,80.22 L409.52,81.41 L413.26,82.81 L417.00,84.41 L420.74,86.16 L424.48,88.03 L428.22,90.11 L431.96,92.35 L435.70,94.82 L439.44,97.45 L443.18,100.31 L446.92,103.26 L450.66,106.27 L454.40,109.41 L458.14,112.68 L461.88,116.08 L465.62,119.56 L469.36,123.35 L473.10,127.30 L476.84,131.62 L480.58,135.98 L484.32,140.52 L488.06,145.02 L491.80,149.48 L495.54,153.67 L499.28,157.70 L503.02,161.50 L506.76,165.39 L510.50,169.33 L514.24,173.16 L517.98,177.19 L521.72,181.15 L525.46,184.96 L529.20,188.71 L532.94,192.48 L536.68,196.42 L540.42,200.42 L544.16,204.34 L547.90,208.09 L551.64,212.18 L555.38,216.52 L559.12,220.62 L562.86,224.55 L566.60,228.53 L570.34,232.06 L574.08,235.49 L577.82,238.62 L581.56,241.55 L585.30,244.89 L589.04,247.86 L592.78,250.67 L596.52,253.82 L600.26,257.47 L604.00,261.24 L607.74,265.05 L611.48,268.37 L615.22,271.31 L618.96,274.06 L622.70,277.38 L626.44,280.80 L630.18,284.74 L633.92,288.89 L637.66,293.15 L641.40,297.95 L645.14,302.91"/>
<path d="M349.68,72.99 L353.42,73.30 L357.16,73.64 L360.90,74.04 L364.64,74.53 L368.38,75.10 L372.12,75.79 L375.86,76.59 L379.60,77.48 L383.34,78.49 L387.08,79.58 L390.82,80.79 L394.56,82.18 L398.30,83.61 L402.04,85.20 L405.78,86.92 L409.52,88.67 L413.26,90.49 L417.00,92.36 L420.74,94.31 L424.48,96.37 L428.22,98.60 L431.96,100.97 L435.70,103.51 L439.44,106.27 L443.18,108.98 L446.92,111.89 L450.66,115.01 L454.40,118.09 L458.14,121.50 L461.88,125.14 L465.62,129.03 L469.36,133.55 L473.10,138.24 L476.84,143.01 L480.58,147.86 L484.32,152.45 L488.06,156.86 L491.80,160.99 L495.54,165.04 L499.28,168.89 L503.02,172.85 L506.76,177.07 L510.50,181.15 L514.24,185.28 L517.98,189.45 L521.72,193.38 L525.46,197.32 L529.20,201.37 L532.94,205.28 L536.68,209.67 L540.42,214.19 L544.16,218.89 L547.90,223.47 L551.64,228.14 L555.38,232.71 L559.12,237.27 L562.86,241.84 L566.60,246.45 L570.34,250.79 L574.08,255.38 L577.82,260.56 L581.56,265.60 L585.30,270.49 L589.04,274.97 L592.78,279.11 L596.52,283.65 L600.26,288.06 L604.00,292.07 L607.74,295.87 L611.48,299.61 L615.22,303.19 L618.96,307.16 L622.70,310.70 L626.44,314.65 L630.18,318.81 L633.92,322.86 L637.66,327.02 L641.40,331.39 L645.14,335.61"/>
<path d="M349.68,72.99 L353.42,73.14 L357.16,73.30 L360.90,73.49 L364.64,73.74 L368.38,74.04 L372.12,74.39 L375.86,74.81 L379.60,75.36 L383.34,76.06 L387.08,76.86 L390.82,77.65 L394.56,78.53 L398.30,79.55 L402.04,80.59 L405.78,81.74 L409.52,82.89 L413.26,84.08 L417.00,85.49 L420.74,86.94 L424.48,88.41 L428.22,90.08 L431.96,91.74 L435.70,93.41 L439.44,95.31 L443.18,97.21 L446.92,99.12 L450.66,101.12 L454.40,103.35 L458.14,105.46 L461.88,108.06 L465.62,110.96 L469.36,114.04 L473.10,117.60 L476.84,121.59 L480.58,125.53 L484.32,130.01 L488.06,134.54 L491.80,139.13 L495.54,143.91 L499.28,148.74 L503.02,153.23 L506.76,157.51 L510.50,161.51 L514.24,165.27 L517.98,169.22 L521.72,172.95 L525.46,176.68 L529.20,180.25 L532.94,184.32 L536.68,188.52 L540.42,192.90 L544.16,197.08 L547.90,201.61 L551.64,205.76 L555.38,210.42 L559.12,215.36 L562.86,220.43 L566.60,225.73 L570.34,230.90 L574.08,235.48 L577.82,240.17 L581.56,244.45 L585.30,248.37 L589.04,251.92 L592.78,255.73 L596.52,259.43 L600.26,263.64 L604.00,268.23 L607.74,272.81 L611.48,277.46 L615.22,282.15 L618.96,285.81 L622.70,290.33 L626.44,294.53 L630.18,297.61 L633.92,300.34 L637.66,302.87 L641.40,305.58 L645.14,308.66"/>
<path d="M349.68,72.99 L353.42,73.42 L357.16,73.86 L360.90,74.36 L364.64,74.92 L368.38,75.57 L372.12,76.32 L375.86,77.18 L379.60,78.15 L383.34,79.23 L387.08,80.42 L390.82,81.66 L394.56,83.04 L398.30,84.49 L402.04,86.13 L405.78,87.90 L409.52,89.92 L413.26,91.91 L417.00,94.10 L420.74,96.35 L424.48,98.78 L428.22,101.05 L431.96,103.51 L435.70,106.05 L439.44,109.07 L443.18,112.18 L446.92,115.35 L450.66,118.54 L454.40,121.97 L458.14,125.44 L461.88,128.90 L465.62,132.22 L469.36,135.60 L473.10,139.30 L476.84,143.16 L480.58,147.22 L484.32,151.79 L488.06,156.70 L491.80,161.54 L495.54,166.64 L499.28,171.85 L503.02,176.95 L506.76,182.33 L510.50,187.37 L514.24,192.22 L517.98,197.12 L521.72,202.23 L525.46,207.04 L529.20,211.58 L532.94,215.81 L536.68,219.82 L540.42,224.19 L544.16,229.10 L547.90,233.72 L551.64,238.51 L555.38,243.67 L559.12,248.88 L562.86,254.32 L566.60,259.21 L570.34,263.20 L574.08,267.34 L577.82,271.84 L581.56,276.05 L585.30,279.91 L589.04,283.49 L592.78,287.15 L596.52,290.61 L600.26,293.92 L604.00,296.61 L607.74,300.00 L611.48,303.60 L615.22,307.50 L618.96,311.40 L622.70,315.80 L626.44,320.41 L630.18,324.69 L633.92,328.76 L637.66,332.65 L641.40,336.34 L645.14,340.01"/>
<path d="M349.68,72.99 L353.42,73.53 L357.16,74.08 L360.90,74.65 L364.64,75.28 L368.38,75.96 L372.12,76.72 L375.86,77.62 L379.60,78.69 L383.34,79.91 L387.08,81.36 L390.82,82.96 L394.56,84.83 L398.30,86.88 L402.04,89.12 L405.78,91.41 L409.52,93.84 L413.26,96.41 L417.00,99.23 L420.74,101.97 L424.48,104.79 L428.22,107.58 L431.96,110.75 L435.70,113.92 L439.44,117.16 L443.18,120.41 L446.92,123.75 L450.66,127.21 L454.40,130.85 L458.14,134.33 L461.88,138.00 L465.62,141.85 L469.36,145.89 L473.10,150.30 L476.84,154.72 L480.58,159.09 L484.32,163.63 L488.06,168.00 L491.80,172.58 L495.54,177.21 L499.28,181.50 L503.02,185.95 L506.76,190.81 L510.50,195.46 L514.24,200.33 L517.98,205.16 L521.72,209.82 L525.46,214.99 L529.20,220.35 L532.94,225.49 L536.68,231.01 L540.42,236.90 L544.16,242.67 L547.90,248.84 L551.64,254.82 L555.38,260.51 L559.12,265.99 L562.86,271.41 L566.60,276.84 L570.34,282.42 L574.08,287.75 L577.82,292.66 L581.56,297.28 L585.30,302.18 L589.04,306.68 L592.78,311.09 L596.52,314.88 L600.26,318.67 L604.00,322.62 L607.74,326.60 L611.48,330.48 L615.22,334.49 L618.96,338.46 L622.70,342.72 L626.44,346.58 L630.18,349.49 L633.92,352.34 L637.66,355.06 L641.40,357.82 L645.14,360.20"/>
<path d="M349.68,72.99 L353.42,73.87 L357.16,74.79 L360.90,75.77 L364.64,76.81 L368.38,77.93 L372.12,79.17 L375.86,80.52 L379.60,82.04 L383.34,83.77 L387.08,85.63 L390.82,87.68 L394.56,89.93 L398.30,92.30 L402.04,94.82 L405.78,97.35 L409.52,99.97 L413.26,102.69 L417.00,105.45 L420.74,108.23 L424.48,111.16 L428.22,114.18 L431.96,117.24 L435.70,120.15 L439.44,123.30 L443.18,126.73 L446.92,130.41 L450.66,134.09 L454.40,137.98 L458.14,142.12 L461.88,146.64 L465.62,150.87 L469.36,155.10 L473.10,159.44 L476.84,164.06 L480.58,168.47 L484.32,172.92 L488.06,177.49 L491.80,182.39 L495.54,187.56 L499.28,192.84 L503.02,198.30 L506.76,204.17 L510.50,210.33 L514.24,216.54 L517.98,222.78 L521.72,228.73 L525.46,234.67 L529.20,240.66 L532.94,246.33 L536.68,252.32 L540.42,258.55 L544.16,264.77 L547.90,271.04 L551.64,277.04 L555.38,282.79 L559.12,288.94 L562.86,294.65 L566.60,299.65 L570.34,304.84 L574.08,310.22 L577.82,316.05 L581.56,322.03 L585.30,327.41 L589.04,332.49 L592.78,337.96 L596.52,343.50 L600.26,349.02 L604.00,354.09 L607.74,359.23 L611.48,364.69 L615.22,370.91 L618.96,377.25 L622.70,383.28 L626.44,388.99 L630.18,395.24 L633.92,401.46 L637.66,407.68 L641.40,413.33 L645.14,418.61"/>
<path d="M349.68,72.99 L353.42,72.69 L357.16,72.39 L360.90,72.10 L364.64,71.84 L368.38,71.62 L372.12,71.43 L375.86,71.35 L379.60,71.37 L383.34,71.50 L387.08,71.80 L390.82,72.17 L394.56,72.62 L398.30,73.18 L402.04,73.74 L405.78,74.29 L409.52,74.90 L413.26,75.47 L417.00,76.16 L420.74,76.95 L424.48,77.62 L428.22,78.32 L431.96,79.23 L435.70,80.40 L439.44,81.75 L443.18,83.24 L446.92,84.87 L450.66,86.66 L454.40,89.02 L458.14,91.39 L461.88,93.89 L465.62,96.59 L469.36,99.48 L473.10,102.60 L476.84,106.14 L480.58,109.37 L484.32,113.02 L488.06,116.58 L491.80,120.10 L495.54,123.33 L499.28,126.37 L503.02,129.17 L506.76,131.99 L510.50,134.29 L514.24,136.75 L517.98,139.23 L521.72,141.82 L525.46,144.31 L529.20,146.59 L532.94,149.35 L536.68,152.36 L540.42,155.14 L544.16,157.99 L547.90,161.02 L551.64,163.70 L555.38,166.50 L559.12,168.99 L562.86,171.03 L566.60,172.96 L570.34,174.28 L574.08,175.33 L577.82,176.75 L581.56,178.69 L585.30,180.45 L589.04,182.33 L592.78,184.44 L596.52,186.17 L600.26,188.06 L604.00,190.72 L607.74,193.18 L611.48,195.36 L615.22,197.62 L618.96,199.86 L622.70,202.97 L626.44,205.43 L630.18,207.25 L633.92,208.63 L637.66,210.03 L641.40,211.49 L645.14,212.90"/>
<path d="M349.68,72.99 L353.42,72.65 L357.16,72.34 L360.90,72.06 L364.64,71.82 L368.38,71.63 L372.12,71.53 L375.86,71.42 L379.60,71.38 L383.34,71.42 L387.08,71.56 L390.82,71.84 L394.56,72.17 L398.30,72.53 L402.04,73.07 L405.78,73.72 L409.52,74.40 L413.26,75.19 L417.00,76.04 L420.74,77.03 L424.48,78.23 L428.22,79.56 L431.96,81.04 L435.70,82.83 L439.44,84.45 L443.18,86.12 L446.92,87.81 L450.66,89.56 L454.40,91.41 L458.14,93.29 L461.88,95.10 L465.62,97.01 L469.36,99.19 L473.10,101.62 L476.84,104.13 L480.58,107.34 L484.32,110.91 L488.06,114.69 L491.80,118.76 L495.54,122.90 L499.28,126.90 L503.02,130.69 L506.76,133.94 L510.50,136.66 L514.24,139.01 L517.98,141.32 L521.72,143.64 L525.46,145.84 L529.20,148.27 L532.94,150.66 L536.68,153.27 L540.42,156.36 L544.16,159.29 L547.90,161.80 L551.64,164.33 L555.38,166.64 L559.12,168.98 L562.86,171.33 L566.60,173.27 L570.34,175.50 L574.08,177.09 L577.82,178.97 L581.56,181.08 L585.30,182.57 L589.04,183.71 L592.78,185.00 L596.52,186.15 L600.26,187.97 L604.00,189.39 L607.74,190.32 L611.48,191.64 L615.22,193.00 L618.96,194.00 L622.70,194.59 L626.44,196.31 L630.18,198.57 L633.92,201.34 L637.66,203.97 L641.40,206.72 L645.14,209.77"/>
</g>
<path d="M80.40,394.76 L82.27,393.14 L86.01,389.64 L89.75,385.52 L93.49,381.01 L97.23,376.45 L100.97,371.59 L104.71,366.89 L108.45,361.91 L112.19,356.90 L115.93,354.21 L117.80,353.42 L119.67,353.27 L123.41,353.38 L125.28,352.47 L127.15,349.57 L130.89,342.34 L134.63,334.83 L138.37,327.84 L142.11,320.91 L145.85,314.35 L149.59,307.32 L153.33,299.68 L157.07,292.02 L160.81,284.49 L164.55,277.39 L168.29,270.56 L172.03,264.13 L175.77,258.41 L179.51,253.24 L183.25,248.44 L186.99,243.88 L190.73,239.11 L194.47,234.00 L198.21,228.59 L201.95,222.71 L205.69,217.31 L209.43,212.33 L213.17,206.56 L216.91,200.16 L220.65,193.47 L224.39,186.63 L228.13,179.25 L231.87,171.81 L235.61,165.66 L239.35,160.88 L243.09,156.50 L246.83,152.35 L250.57,148.41 L254.31,144.73 L258.05,141.28 L261.79,138.00 L265.53,134.88 L269.27,131.73 L273.01,128.60 L276.75,125.62 L280.49,122.74 L284.23,119.86 L287.97,116.93 L291.71,113.95 L295.45,110.89 L299.19,107.75 L302.93,104.50 L306.67,101.21 L310.41,97.97 L314.15,94.54 L317.89,91.08 L321.63,87.78 L325.37,84.68 L329.11,81.71 L332.85,78.67 L336.59,76.20 L340.33,74.46 L344.07,73.35 L347.81,73.00 L349.68,73.00" fill="none" stroke="#000" stroke-width="1.5" stroke-linejoin="round"/>
<path d="M349.68,72.99 L353.42,74.21 L357.16,75.45 L360.90,76.75 L364.64,78.12 L368.38,79.60 L372.12,81.20 L375.86,82.97 L379.60,84.91 L383.34,87.06 L387.08,89.38 L390.82,91.85 L394.56,94.44 L398.30,97.12 L402.04,99.87 L405.78,102.69 L409.52,105.57 L413.26,108.55 L417.00,111.64 L420.74,114.89 L424.48,118.28 L428.22,121.81 L431.96,125.49 L435.70,129.30 L439.44,133.24 L443.18,137.32 L446.92,141.52 L450.66,145.84 L454.40,150.28 L458.14,154.83 L461.88,159.49 L465.62,164.26 L469.36,169.14 L473.10,174.12 L476.84,179.20 L480.58,184.37 L484.32,189.64 L488.06,195.00 L491.80,200.45 L495.54,205.98 L499.28,211.58 L503.02,217.24 L506.76,222.93 L510.50,228.65 L514.24,234.38 L517.98,240.10 L521.72,245.80 L525.46,251.46 L529.20,257.07 L532.94,262.61 L536.68,268.09 L540.42,273.51 L544.16,278.88 L547.90,284.20 L551.64,289.46 L555.38,294.69 L559.12,299.88 L562.86,305.04 L566.60,310.16 L570.34,315.26 L574.08,320.33 L577.82,325.37 L581.56,330.36 L585.30,335.32 L589.04,340.23 L592.78,345.09 L596.52,349.89 L600.26,354.63 L604.00,359.31 L607.74,363.93 L611.48,368.48 L615.22,372.97 L618.96,377.41 L622.70,381.81 L626.44,386.15 L630.18,390.46 L633.92,394.74 L637.66,398.98 L641.40,403.20 L645.14,407.40" fill="none" stroke="#ff0000" stroke-width="1.65" stroke-linecap="round" stroke-dasharray="1.25 4.58"/>
<path d="M349.68,73.00 L353.42,72.31 L357.16,71.64 L360.90,70.99 L364.64,70.38 L368.38,69.80 L372.12,69.27 L375.86,68.81 L379.60,68.42 L383.34,68.10 L387.08,67.87 L390.82,67.73 L394.56,67.66 L398.30,67.68 L402.04,67.77 L405.78,67.95 L409.52,68.21 L413.26,68.55 L417.00,68.96 L420.74,69.46 L424.48,70.06 L428.22,70.76 L431.96,71.57 L435.70,72.52 L439.44,73.61 L443.18,74.86 L446.92,76.28 L450.66,77.87 L454.40,79.67 L458.14,81.66 L461.88,83.85 L465.62,86.21 L469.36,88.73 L473.10,91.40 L476.84,94.20 L480.58,97.11 L484.32,100.11 L488.06,103.20 L491.80,106.36 L495.54,109.57 L499.28,112.81 L503.02,116.08 L506.76,119.34 L510.50,122.60 L514.24,125.82 L517.98,129.00 L521.72,132.11 L525.46,135.15 L529.20,138.09 L532.94,140.93 L536.68,143.68 L540.42,146.35 L544.16,148.97 L547.90,151.56 L551.64,154.13 L555.38,156.71 L559.12,159.31 L562.86,161.96 L566.60,164.66 L570.34,167.44 L574.08,170.29 L577.82,173.17 L581.56,176.09 L585.30,179.01 L589.04,181.92 L592.78,184.81 L596.52,187.65 L600.26,190.42 L604.00,193.12 L607.74,195.71 L611.48,198.22 L615.22,200.65 L618.96,203.02 L622.70,205.33 L626.44,207.61 L630.18,209.85 L633.92,212.08 L637.66,214.30 L641.40,216.53 L645.14,218.77" fill="none" stroke="#ff0000" stroke-width="1.65" stroke-linecap="round" stroke-dasharray="1.25 4.548"/>
<path d="M349.68,72.99 L353.42,73.90 L357.16,74.82 L360.90,75.79 L364.64,76.82 L368.38,77.93 L372.12,79.13 L375.86,80.47 L379.60,81.94 L383.34,83.57 L387.08,85.36 L390.82,87.29 L394.56,89.38 L398.30,91.60 L402.04,93.94 L405.78,96.37 L409.52,98.89 L413.26,101.48 L417.00,104.16 L420.74,106.93 L424.48,109.79 L428.22,112.77 L431.96,115.86 L435.70,119.08 L439.44,122.43 L443.18,125.93 L446.92,129.58 L450.66,133.39 L454.40,137.37 L458.14,141.53 L461.88,145.85 L465.62,150.31 L469.36,154.90 L473.10,159.60 L476.84,164.39 L480.58,169.25 L484.32,174.16 L488.06,179.12 L491.80,184.09 L495.54,189.06 L499.28,194.05 L503.02,199.04 L506.76,204.04 L510.50,209.07 L514.24,214.12 L517.98,219.19 L521.72,224.30 L525.46,229.44 L529.20,234.62 L532.94,239.85 L536.68,245.10 L540.42,250.36 L544.16,255.62 L547.90,260.86 L551.64,266.05 L555.38,271.20 L559.12,276.27 L562.86,281.25 L566.60,286.12 L570.34,290.88 L574.08,295.53 L577.82,300.09 L581.56,304.55 L585.30,308.95 L589.04,313.28 L592.78,317.57 L596.52,321.82 L600.26,326.04 L604.00,330.25 L607.74,334.46 L611.48,338.67 L615.22,342.89 L618.96,347.10 L622.70,351.32 L626.44,355.54 L630.18,359.77 L633.92,364.00 L637.66,368.24 L641.40,372.49 L645.14,376.74" fill="none" stroke="#ff0000" stroke-width="1.65" stroke-linecap="round" stroke-dasharray="5.65 6.01"/>
<path d="M349.68,72.99 L353.42,72.61 L357.16,72.25 L360.90,71.90 L364.64,71.59 L368.38,71.33 L372.12,71.13 L375.86,70.99 L379.60,70.95 L383.34,70.99 L387.08,71.12 L390.82,71.35 L394.56,71.66 L398.30,72.05 L402.04,72.52 L405.78,73.07 L409.52,73.69 L413.26,74.39 L417.00,75.15 L420.74,75.98 L424.48,76.90 L428.22,77.92 L431.96,79.06 L435.70,80.34 L439.44,81.79 L443.18,83.42 L446.92,85.25 L450.66,87.29 L454.40,89.58 L458.14,92.12 L461.88,94.88 L465.62,97.85 L469.36,101.00 L473.10,104.29 L476.84,107.70 L480.58,111.20 L484.32,114.77 L488.06,118.37 L491.80,121.97 L495.54,125.57 L499.28,129.14 L503.02,132.69 L506.76,136.23 L510.50,139.75 L514.24,143.26 L517.98,146.76 L521.72,150.25 L525.46,153.72 L529.20,157.19 L532.94,160.65 L536.68,164.10 L540.42,167.55 L544.16,170.98 L547.90,174.40 L551.64,177.81 L555.38,181.21 L559.12,184.60 L562.86,187.97 L566.60,191.32 L570.34,194.66 L574.08,197.98 L577.82,201.27 L581.56,204.53 L585.30,207.76 L589.04,210.95 L592.78,214.09 L596.52,217.18 L600.26,220.22 L604.00,223.20 L607.74,226.11 L611.48,228.97 L615.22,231.76 L618.96,234.51 L622.70,237.20 L626.44,239.84 L630.18,242.44 L633.92,245.00 L637.66,247.52 L641.40,250.01 L645.14,252.47" fill="none" stroke="#ff0000" stroke-width="1.65" stroke-linecap="round" stroke-dasharray="5.65 6.01"/>
<path d="M349.68,72.99 L353.42,73.22 L357.16,73.47 L360.90,73.74 L364.64,74.07 L368.38,74.46 L372.12,74.93 L375.86,75.51 L379.60,76.19 L383.34,77.00 L387.08,77.95 L390.82,79.02 L394.56,80.21 L398.30,81.53 L402.04,82.97 L405.78,84.53 L409.52,86.22 L413.26,88.02 L417.00,89.93 L420.74,91.97 L424.48,94.11 L428.22,96.35 L431.96,98.70 L435.70,101.14 L439.44,103.69 L443.18,106.35 L446.92,109.11 L450.66,111.96 L454.40,114.89 L458.14,117.88 L461.88,120.95 L465.62,124.14 L469.36,127.54 L473.10,131.19 L476.84,135.03 L480.58,139.05 L484.32,143.19 L488.06,147.43 L491.80,151.72 L495.54,156.03 L499.28,160.35 L503.02,164.67 L506.76,168.99 L510.50,173.30 L514.24,177.61 L517.98,181.89 L521.72,186.16 L525.46,190.39 L529.20,194.60 L532.94,198.76 L536.68,202.90 L540.42,207.01 L544.16,211.11 L547.90,215.20 L551.64,219.30 L555.38,223.40 L559.12,227.52 L562.86,231.66 L566.60,235.84 L570.34,240.05 L574.08,244.29 L577.82,248.54 L581.56,252.78 L585.30,257.00 L589.04,261.18 L592.78,265.30 L596.52,269.34 L600.26,273.30 L604.00,277.15 L607.74,280.89 L611.48,284.52 L615.22,288.05 L618.96,291.50 L622.70,294.89 L626.44,298.21 L630.18,301.50 L633.92,304.75 L637.66,307.99 L641.40,311.23 L645.14,314.48" fill="none" stroke="#ff0000" stroke-width="1.65"/>
<path d="M349.68,72.99 L353.42,74.65 L357.16,76.32 L360.90,78.02 L364.64,79.78 L368.38,81.60 L372.12,83.50 L375.86,85.50 L379.60,87.61 L383.34,89.85 L387.08,92.21 L390.82,94.66 L394.56,97.19 L398.30,99.78 L402.04,102.44 L405.78,105.19 L409.52,108.02 L413.26,110.96 L417.00,114.00 L420.74,117.16 L424.48,120.43 L428.22,123.82 L431.96,127.32 L435.70,130.95 L439.44,134.71 L443.18,138.59 L446.92,142.60 L450.66,146.74 L454.40,151.01 L458.14,155.42 L461.88,159.97 L465.62,164.66 L469.36,169.48 L473.10,174.45 L476.84,179.56 L480.58,184.81 L484.32,190.21 L488.06,195.75 L491.80,201.43 L495.54,207.27 L499.28,213.22 L503.02,219.27 L506.76,225.40 L510.50,231.58 L514.24,237.79 L517.98,244.00 L521.72,250.19 L525.46,256.33 L529.20,262.40 L532.94,268.39 L536.68,274.28 L540.42,280.10 L544.16,285.85 L547.90,291.53 L551.64,297.16 L555.38,302.73 L559.12,308.27 L562.86,313.77 L566.60,319.24 L570.34,324.69 L574.08,330.12 L577.82,335.51 L581.56,340.86 L585.30,346.15 L589.04,351.39 L592.78,356.56 L596.52,361.65 L600.26,366.66 L604.00,371.58 L607.74,376.41 L611.48,381.15 L615.22,385.81 L618.96,390.42 L622.70,394.98 L626.44,399.51 L630.18,404.01 L633.92,408.51 L637.66,413.01 L641.40,417.54 L645.14,422.09" fill="none" stroke="#0000ff" stroke-width="1.65" stroke-linecap="round" stroke-dasharray="1.25 4.51 5.62 4.51"/>
<path d="M349.68,72.99 L353.42,71.82 L357.16,70.66 L360.90,69.54 L364.64,68.47 L368.38,67.46 L372.12,66.54 L375.86,65.71 L379.60,65.00 L383.34,64.42 L387.08,63.96 L390.82,63.61 L394.56,63.35 L398.30,63.18 L402.04,63.09 L405.78,63.07 L409.52,63.13 L413.26,63.26 L417.00,63.48 L420.74,63.79 L424.48,64.19 L428.22,64.69 L431.96,65.31 L435.70,66.05 L439.44,66.91 L443.18,67.92 L446.92,69.07 L450.66,70.39 L454.40,71.86 L458.14,73.51 L461.88,75.32 L465.62,77.26 L469.36,79.31 L473.10,81.47 L476.84,83.70 L480.58,85.99 L484.32,88.31 L488.06,90.66 L491.80,93.00 L495.54,95.33 L499.28,97.63 L503.02,99.91 L506.76,102.17 L510.50,104.39 L514.24,106.59 L517.98,108.75 L521.72,110.88 L525.46,112.98 L529.20,115.03 L532.94,117.05 L536.68,119.04 L540.42,120.99 L544.16,122.92 L547.90,124.82 L551.64,126.71 L555.38,128.58 L559.12,130.44 L562.86,132.29 L566.60,134.14 L570.34,135.99 L574.08,137.83 L577.82,139.65 L581.56,141.44 L585.30,143.19 L589.04,144.89 L592.78,146.53 L596.52,148.10 L600.26,149.59 L604.00,150.99 L607.74,152.29 L611.48,153.50 L615.22,154.64 L618.96,155.70 L622.70,156.71 L626.44,157.67 L630.18,158.60 L633.92,159.51 L637.66,160.41 L641.40,161.30 L645.14,162.20" fill="none" stroke="#0000ff" stroke-width="1.65" stroke-linecap="round" stroke-dasharray="1.25 4.51 5.62 4.51"/>
<rect x="57.6" y="49.0" width="609.8" height="387.5" fill="none" stroke="#000" stroke-width="0.8"/>
<path d="M80.40,436.5 H641.40 M57.6,409.10 V82.40" fill="none" stroke="#000" stroke-width="0.8"/>
<path d="M80.40,436.5 v7.2 M117.80,436.5 v7.2 M155.20,436.5 v7.2 M192.60,436.5 v7.2 M230.00,436.5 v7.2 M267.40,436.5 v7.2 M304.80,436.5 v7.2 M342.20,436.5 v7.2 M379.60,436.5 v7.2 M417.00,436.5 v7.2 M454.40,436.5 v7.2 M491.80,436.5 v7.2 M529.20,436.5 v7.2 M566.60,436.5 v7.2 M604.00,436.5 v7.2 M641.40,436.5 v7.2 M57.6,409.10 h-7.2 M57.6,372.80 h-7.2 M57.6,336.50 h-7.2 M57.6,300.20 h-7.2 M57.6,263.90 h-7.2 M57.6,227.60 h-7.2 M57.6,191.30 h-7.2 M57.6,155.00 h-7.2 M57.6,118.70 h-7.2 M57.6,82.40 h-7.2" fill="none" stroke="#000" stroke-width="0.85"/>
<g font-family="'Liberation Sans', Arial, sans-serif" font-size="12" fill="#000">
<text x="80.40" y="462" text-anchor="middle">1950</text>
<text x="117.80" y="462" text-anchor="middle">1960</text>
<text x="155.20" y="462" text-anchor="middle">1970</text>
<text x="192.60" y="462" text-anchor="middle">1980</text>
<text x="230.00" y="462" text-anchor="middle">1990</text>
<text x="267.40" y="462" text-anchor="middle">2000</text>
<text x="304.80" y="462" text-anchor="middle">2010</text>
<text x="342.20" y="462" text-anchor="middle">2020</text>
<text x="379.60" y="462" text-anchor="middle">2030</text>
<text x="417.00" y="462" text-anchor="middle">2040</text>
<text x="454.40" y="462" text-anchor="middle">2050</text>
<text x="491.80" y="462" text-anchor="middle">2060</text>
<text x="529.20" y="462" text-anchor="middle">2070</text>
<text x="566.60" y="462" text-anchor="middle">2080</text>
<text x="604.00" y="462" text-anchor="middle">2090</text>
<text x="641.40" y="462" text-anchor="middle">2100</text>
<text transform="translate(41,409.10) rotate(-90)" text-anchor="middle">0.5</text>
<text transform="translate(41,372.80) rotate(-90)" text-anchor="middle">0.6</text>
<text transform="translate(41,336.50) rotate(-90)" text-anchor="middle">0.7</text>
<text transform="translate(41,300.20) rotate(-90)" text-anchor="middle">0.8</text>
<text transform="translate(41,263.90) rotate(-90)" text-anchor="middle">0.9</text>
<text transform="translate(41,227.60) rotate(-90)" text-anchor="middle">1</text>
<text transform="translate(41,191.30) rotate(-90)" text-anchor="middle">1.1</text>
<text transform="translate(41,155.00) rotate(-90)" text-anchor="middle">1.2</text>
<text transform="translate(41,118.70) rotate(-90)" text-anchor="middle">1.3</text>
<text transform="translate(41,82.40) rotate(-90)" text-anchor="middle">1.4</text>
<text transform="translate(13.2,242.75) rotate(-90)" text-anchor="middle">Population (billion)</text>
<text x="362.50" y="25.4" text-anchor="middle" font-size="14" font-weight="bold">China: Total Population</text>
<text x="100.9" y="484" font-size="10" textLength="495.2" lengthAdjust="spacing">© 2022 United Nations, DESA, Population Division. Licensed under Creative Commons license CC BY 3.0 IGO.</text>
<text y="494.6" font-size="10"><tspan x="109">United Nations, DESA, Population Division. </tspan><tspan x="303.5" font-style="italic">World Population Prospects 2022</tspan><tspan x="453.5" textLength="134.9" lengthAdjust="spacing">. http://population.un.org/wpp/</tspan></text>
</g>
<rect x="252.8" y="244.5" width="159.6" height="91.5" fill="#fff" stroke="#000" stroke-width="0.85"/>
<path d="M262.3,257.3 H282.9" stroke="#ff0000" stroke-width="1.65"/>
<path d="M262.3,270.3 H282.9" stroke="#ff0000" stroke-width="1.65" stroke-linecap="round" stroke-dasharray="5.65 6.01"/>
<path d="M262.3,283.3 H282.9" stroke="#ff0000" stroke-width="1.65" stroke-linecap="round" stroke-dasharray="1.25 4.58"/>
<path d="M262.3,296.3 H282.9" stroke="#000" stroke-width="1.6"/>
<path d="M262.3,309.3 H282.9" stroke="#0000ff" stroke-width="1.65" stroke-linecap="round" stroke-dasharray="1.25 4.51 5.62 4.51"/>
<path d="M262.3,322.3 H282.9" stroke="#bebebe" stroke-width="1.6"/>
<g font-family="'Liberation Sans', Arial, sans-serif" font-size="12" fill="#000" clip-path="url(#lc)">
<text x="292.2" y="260.9">median</text>
<text x="292.2" y="273.9" textLength="120.2" lengthAdjust="spacing">80% prediction interval</text>
<text x="292.2" y="286.9" textLength="120.2" lengthAdjust="spacing">95% prediction interval</text>
<text x="292.2" y="299.9">observed</text>
<text x="292.2" y="312.9" textLength="60.8" lengthAdjust="spacing">+/- 0.5 child</text>
<text x="292.2" y="325.9" textLength="115.9" lengthAdjust="spacing">60 sample trajectories</text>
</g>
<rect x="0" y="496.5" width="700" height="1.5" fill="#e6e7e9"/>
</svg>
</body></html>
